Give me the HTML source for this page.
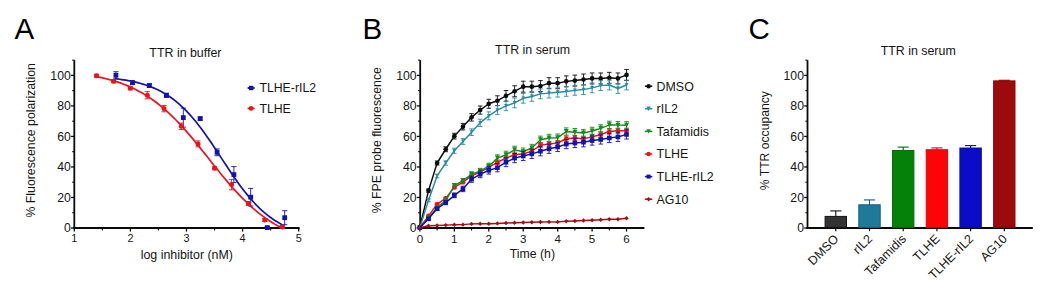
<!DOCTYPE html>
<html lang="en">
<head>
<meta charset="utf-8">
<title>TTR occupancy figure</title>
<style>
html,body{margin:0;padding:0;background:#fff;}
body{width:1050px;height:294px;overflow:hidden;}
svg{display:block;}
</style>
</head>
<body>
<svg width="1050" height="294" viewBox="0 0 1050 294" font-family='"Liberation Sans", Arial, Helvetica, sans-serif'>
<rect x="0" y="0" width="1050" height="294" fill="#ffffff"/>
<g id="panelA">
<text x="14.40" y="38.90" font-size="29.5" text-anchor="start" fill="#000">A</text>
<text x="185.40" y="56.50" font-size="12.4" text-anchor="middle" fill="#151515">TTR in buffer</text>
<line x1="74.30" y1="60.14" x2="74.30" y2="229.00" stroke="#0a0a0a" stroke-width="1.8" stroke-linecap="butt"/>
<line x1="71.00" y1="228.00" x2="74.30" y2="228.00" stroke="#0a0a0a" stroke-width="1.3" stroke-linecap="butt"/>
<text x="70.80" y="232.30" font-size="12.25" text-anchor="end" fill="#151515">0</text>
<line x1="72.10" y1="212.74" x2="74.30" y2="212.74" stroke="#0a0a0a" stroke-width="1.0" stroke-linecap="butt"/>
<line x1="71.00" y1="197.48" x2="74.30" y2="197.48" stroke="#0a0a0a" stroke-width="1.3" stroke-linecap="butt"/>
<text x="70.80" y="201.78" font-size="12.25" text-anchor="end" fill="#151515">20</text>
<line x1="72.10" y1="182.22" x2="74.30" y2="182.22" stroke="#0a0a0a" stroke-width="1.0" stroke-linecap="butt"/>
<line x1="71.00" y1="166.96" x2="74.30" y2="166.96" stroke="#0a0a0a" stroke-width="1.3" stroke-linecap="butt"/>
<text x="70.80" y="171.26" font-size="12.25" text-anchor="end" fill="#151515">40</text>
<line x1="72.10" y1="151.70" x2="74.30" y2="151.70" stroke="#0a0a0a" stroke-width="1.0" stroke-linecap="butt"/>
<line x1="71.00" y1="136.44" x2="74.30" y2="136.44" stroke="#0a0a0a" stroke-width="1.3" stroke-linecap="butt"/>
<text x="70.80" y="140.74" font-size="12.25" text-anchor="end" fill="#151515">60</text>
<line x1="72.10" y1="121.18" x2="74.30" y2="121.18" stroke="#0a0a0a" stroke-width="1.0" stroke-linecap="butt"/>
<line x1="71.00" y1="105.92" x2="74.30" y2="105.92" stroke="#0a0a0a" stroke-width="1.3" stroke-linecap="butt"/>
<text x="70.80" y="110.22" font-size="12.25" text-anchor="end" fill="#151515">80</text>
<line x1="72.10" y1="90.66" x2="74.30" y2="90.66" stroke="#0a0a0a" stroke-width="1.0" stroke-linecap="butt"/>
<line x1="71.00" y1="75.40" x2="74.30" y2="75.40" stroke="#0a0a0a" stroke-width="1.3" stroke-linecap="butt"/>
<text x="70.80" y="79.70" font-size="12.25" text-anchor="end" fill="#151515">100</text>
<line x1="72.10" y1="60.14" x2="74.30" y2="60.14" stroke="#0a0a0a" stroke-width="1.0" stroke-linecap="butt"/>
<line x1="73.35" y1="228.00" x2="299.60" y2="228.00" stroke="#0a0a0a" stroke-width="1.9" stroke-linecap="butt"/>
<line x1="74.30" y1="228.00" x2="74.30" y2="231.60" stroke="#0a0a0a" stroke-width="1.3" stroke-linecap="butt"/>
<text x="74.30" y="242.30" font-size="10.8" text-anchor="middle" fill="#151515">1</text>
<line x1="102.35" y1="228.00" x2="102.35" y2="230.40" stroke="#0a0a0a" stroke-width="1.1" stroke-linecap="butt"/>
<line x1="130.40" y1="228.00" x2="130.40" y2="231.60" stroke="#0a0a0a" stroke-width="1.3" stroke-linecap="butt"/>
<text x="130.40" y="242.30" font-size="10.8" text-anchor="middle" fill="#151515">2</text>
<line x1="158.45" y1="228.00" x2="158.45" y2="230.40" stroke="#0a0a0a" stroke-width="1.1" stroke-linecap="butt"/>
<line x1="186.50" y1="228.00" x2="186.50" y2="231.60" stroke="#0a0a0a" stroke-width="1.3" stroke-linecap="butt"/>
<text x="186.50" y="242.30" font-size="10.8" text-anchor="middle" fill="#151515">3</text>
<line x1="214.55" y1="228.00" x2="214.55" y2="230.40" stroke="#0a0a0a" stroke-width="1.1" stroke-linecap="butt"/>
<line x1="242.60" y1="228.00" x2="242.60" y2="231.60" stroke="#0a0a0a" stroke-width="1.3" stroke-linecap="butt"/>
<text x="242.60" y="242.30" font-size="10.8" text-anchor="middle" fill="#151515">4</text>
<line x1="270.65" y1="228.00" x2="270.65" y2="230.40" stroke="#0a0a0a" stroke-width="1.1" stroke-linecap="butt"/>
<line x1="298.70" y1="228.00" x2="298.70" y2="231.60" stroke="#0a0a0a" stroke-width="1.3" stroke-linecap="butt"/>
<text x="298.70" y="242.30" font-size="10.8" text-anchor="middle" fill="#151515">5</text>
<text x="186.80" y="258.90" font-size="12.4" text-anchor="middle" fill="#151515">log inhibitor (nM)</text>
<text x="34.60" y="140.30" font-size="12.3" text-anchor="middle" fill="#151515" transform="rotate(-90 34.60 140.30)">% Fluorescence polarization</text>
<polyline points="115.25,78.72 117.38,78.97 119.50,79.25 121.62,79.54 123.75,79.86 125.87,80.20 127.99,80.57 130.12,80.97 132.24,81.40 134.36,81.86 136.49,82.35 138.61,82.89 140.73,83.46 142.86,84.07 144.98,84.73 147.10,85.44 149.23,86.19 151.35,87.01 153.47,87.87 155.60,88.80 157.72,89.79 159.84,90.85 161.97,91.98 164.09,93.18 166.21,94.46 168.33,95.82 170.46,97.26 172.58,98.79 174.70,100.40 176.83,102.11 178.95,103.91 181.07,105.81 183.20,107.80 185.32,109.90 187.44,112.08 189.57,114.37 191.69,116.76 193.81,119.24 195.94,121.81 198.06,124.48 200.18,127.23 202.31,130.06 204.43,132.97 206.55,135.95 208.68,138.99 210.80,142.09 212.92,145.24 215.05,148.42 217.17,151.64 219.29,154.87 221.42,158.11 223.54,161.35 225.66,164.59 227.79,167.80 229.91,170.98 232.03,174.12 234.16,177.21 236.28,180.25 238.40,183.22 240.53,186.13 242.65,188.95 244.77,191.69 246.90,194.35 249.02,196.91 251.14,199.39 253.27,201.76 255.39,204.04 257.51,206.22 259.64,208.30 261.76,210.28 263.88,212.17 266.01,213.96 268.13,215.66 270.25,217.27 272.38,218.79 274.50,220.22 276.62,221.57 278.75,222.84 280.87,224.03 282.99,225.16" fill="none" stroke="#1212ac" stroke-width="1.7" stroke-linejoin="round" stroke-linecap="round"/>
<polyline points="96.74,76.64 99.08,77.12 101.43,77.62 103.77,78.15 106.11,78.72 108.46,79.32 110.80,79.96 113.14,80.64 115.49,81.36 117.83,82.12 120.17,82.92 122.52,83.77 124.86,84.67 127.20,85.62 129.55,86.62 131.89,87.68 134.23,88.79 136.58,89.97 138.92,91.20 141.26,92.50 143.61,93.86 145.95,95.29 148.30,96.79 150.64,98.36 152.98,100.01 155.33,101.72 157.67,103.51 160.01,105.37 162.36,107.31 164.70,109.33 167.04,111.42 169.39,113.58 171.73,115.82 174.07,118.13 176.42,120.51 178.76,122.96 181.10,125.47 183.45,128.05 185.79,130.68 188.13,133.38 190.48,136.12 192.82,138.91 195.16,141.74 197.51,144.61 199.85,147.50 202.19,150.42 204.54,153.36 206.88,156.31 209.22,159.27 211.57,162.22 213.91,165.17 216.25,168.11 218.60,171.02 220.94,173.91 223.28,176.76 225.63,179.58 227.97,182.35 230.31,185.08 232.66,187.75 235.00,190.37 237.35,192.92 239.69,195.42 242.03,197.84 244.38,200.20 246.72,202.48 249.06,204.69 251.41,206.83 253.75,208.90 256.09,210.88 258.44,212.80 260.78,214.64 263.12,216.40 265.47,218.09 267.81,219.71 270.15,221.25 272.50,222.73 274.84,224.14 277.18,225.48 279.53,226.75 281.87,227.97" fill="none" stroke="#e8141c" stroke-width="1.7" stroke-linejoin="round" stroke-linecap="round"/>
<line x1="115.90" y1="71.70" x2="115.90" y2="78.90" stroke="#1212ac" stroke-width="0.9" stroke-linecap="butt"/>
<line x1="113.30" y1="71.70" x2="118.50" y2="71.70" stroke="#1212ac" stroke-width="0.9" stroke-linecap="butt"/>
<line x1="113.30" y1="78.90" x2="118.50" y2="78.90" stroke="#1212ac" stroke-width="0.9" stroke-linecap="butt"/>
<line x1="132.50" y1="80.90" x2="132.50" y2="84.50" stroke="#1212ac" stroke-width="0.9" stroke-linecap="butt"/>
<line x1="129.90" y1="80.90" x2="135.10" y2="80.90" stroke="#1212ac" stroke-width="0.9" stroke-linecap="butt"/>
<line x1="129.90" y1="84.50" x2="135.10" y2="84.50" stroke="#1212ac" stroke-width="0.9" stroke-linecap="butt"/>
<line x1="149.40" y1="83.80" x2="149.40" y2="87.40" stroke="#1212ac" stroke-width="0.9" stroke-linecap="butt"/>
<line x1="146.80" y1="83.80" x2="152.00" y2="83.80" stroke="#1212ac" stroke-width="0.9" stroke-linecap="butt"/>
<line x1="146.80" y1="87.40" x2="152.00" y2="87.40" stroke="#1212ac" stroke-width="0.9" stroke-linecap="butt"/>
<line x1="166.40" y1="93.30" x2="166.40" y2="97.30" stroke="#1212ac" stroke-width="0.9" stroke-linecap="butt"/>
<line x1="163.80" y1="93.30" x2="169.00" y2="93.30" stroke="#1212ac" stroke-width="0.9" stroke-linecap="butt"/>
<line x1="163.80" y1="97.30" x2="169.00" y2="97.30" stroke="#1212ac" stroke-width="0.9" stroke-linecap="butt"/>
<line x1="183.30" y1="108.10" x2="183.30" y2="127.10" stroke="#1212ac" stroke-width="0.9" stroke-linecap="butt"/>
<line x1="180.70" y1="108.10" x2="185.90" y2="108.10" stroke="#1212ac" stroke-width="0.9" stroke-linecap="butt"/>
<line x1="180.70" y1="127.10" x2="185.90" y2="127.10" stroke="#1212ac" stroke-width="0.9" stroke-linecap="butt"/>
<line x1="200.20" y1="117.10" x2="200.20" y2="120.10" stroke="#1212ac" stroke-width="0.9" stroke-linecap="butt"/>
<line x1="197.60" y1="117.10" x2="202.80" y2="117.10" stroke="#1212ac" stroke-width="0.9" stroke-linecap="butt"/>
<line x1="197.60" y1="120.10" x2="202.80" y2="120.10" stroke="#1212ac" stroke-width="0.9" stroke-linecap="butt"/>
<line x1="217.10" y1="148.90" x2="217.10" y2="155.70" stroke="#1212ac" stroke-width="0.9" stroke-linecap="butt"/>
<line x1="214.50" y1="148.90" x2="219.70" y2="148.90" stroke="#1212ac" stroke-width="0.9" stroke-linecap="butt"/>
<line x1="214.50" y1="155.70" x2="219.70" y2="155.70" stroke="#1212ac" stroke-width="0.9" stroke-linecap="butt"/>
<line x1="233.90" y1="166.60" x2="233.90" y2="182.60" stroke="#1212ac" stroke-width="0.9" stroke-linecap="butt"/>
<line x1="231.30" y1="166.60" x2="236.50" y2="166.60" stroke="#1212ac" stroke-width="0.9" stroke-linecap="butt"/>
<line x1="231.30" y1="182.60" x2="236.50" y2="182.60" stroke="#1212ac" stroke-width="0.9" stroke-linecap="butt"/>
<line x1="250.70" y1="188.40" x2="250.70" y2="206.00" stroke="#1212ac" stroke-width="0.9" stroke-linecap="butt"/>
<line x1="248.10" y1="188.40" x2="253.30" y2="188.40" stroke="#1212ac" stroke-width="0.9" stroke-linecap="butt"/>
<line x1="248.10" y1="206.00" x2="253.30" y2="206.00" stroke="#1212ac" stroke-width="0.9" stroke-linecap="butt"/>
<line x1="267.30" y1="226.60" x2="267.30" y2="228.60" stroke="#1212ac" stroke-width="0.9" stroke-linecap="butt"/>
<line x1="264.70" y1="226.60" x2="269.90" y2="226.60" stroke="#1212ac" stroke-width="0.9" stroke-linecap="butt"/>
<line x1="264.70" y1="228.60" x2="269.90" y2="228.60" stroke="#1212ac" stroke-width="0.9" stroke-linecap="butt"/>
<line x1="284.70" y1="210.70" x2="284.70" y2="224.70" stroke="#1212ac" stroke-width="0.9" stroke-linecap="butt"/>
<line x1="282.10" y1="210.70" x2="287.30" y2="210.70" stroke="#1212ac" stroke-width="0.9" stroke-linecap="butt"/>
<line x1="282.10" y1="224.70" x2="287.30" y2="224.70" stroke="#1212ac" stroke-width="0.9" stroke-linecap="butt"/>
<rect x="113.50" y="72.90" width="4.80" height="4.80" fill="#1212ac"/>
<rect x="130.10" y="80.30" width="4.80" height="4.80" fill="#1212ac"/>
<rect x="147.00" y="83.20" width="4.80" height="4.80" fill="#1212ac"/>
<rect x="164.00" y="92.90" width="4.80" height="4.80" fill="#1212ac"/>
<rect x="180.90" y="115.20" width="4.80" height="4.80" fill="#1212ac"/>
<rect x="197.80" y="116.20" width="4.80" height="4.80" fill="#1212ac"/>
<rect x="214.70" y="149.90" width="4.80" height="4.80" fill="#1212ac"/>
<rect x="231.50" y="172.20" width="4.80" height="4.80" fill="#1212ac"/>
<rect x="248.30" y="194.80" width="4.80" height="4.80" fill="#1212ac"/>
<rect x="264.90" y="225.20" width="4.80" height="4.80" fill="#1212ac"/>
<rect x="282.30" y="215.30" width="4.80" height="4.80" fill="#1212ac"/>
<line x1="96.50" y1="74.30" x2="96.50" y2="77.30" stroke="#e8141c" stroke-width="0.9" stroke-linecap="butt"/>
<line x1="93.90" y1="74.30" x2="99.10" y2="74.30" stroke="#e8141c" stroke-width="0.9" stroke-linecap="butt"/>
<line x1="93.90" y1="77.30" x2="99.10" y2="77.30" stroke="#e8141c" stroke-width="0.9" stroke-linecap="butt"/>
<line x1="113.60" y1="79.70" x2="113.60" y2="82.70" stroke="#e8141c" stroke-width="0.9" stroke-linecap="butt"/>
<line x1="111.00" y1="79.70" x2="116.20" y2="79.70" stroke="#e8141c" stroke-width="0.9" stroke-linecap="butt"/>
<line x1="111.00" y1="82.70" x2="116.20" y2="82.70" stroke="#e8141c" stroke-width="0.9" stroke-linecap="butt"/>
<line x1="130.30" y1="86.70" x2="130.30" y2="89.70" stroke="#e8141c" stroke-width="0.9" stroke-linecap="butt"/>
<line x1="127.70" y1="86.70" x2="132.90" y2="86.70" stroke="#e8141c" stroke-width="0.9" stroke-linecap="butt"/>
<line x1="127.70" y1="89.70" x2="132.90" y2="89.70" stroke="#e8141c" stroke-width="0.9" stroke-linecap="butt"/>
<line x1="147.30" y1="91.60" x2="147.30" y2="98.80" stroke="#e8141c" stroke-width="0.9" stroke-linecap="butt"/>
<line x1="144.70" y1="91.60" x2="149.90" y2="91.60" stroke="#e8141c" stroke-width="0.9" stroke-linecap="butt"/>
<line x1="144.70" y1="98.80" x2="149.90" y2="98.80" stroke="#e8141c" stroke-width="0.9" stroke-linecap="butt"/>
<line x1="164.00" y1="105.40" x2="164.00" y2="111.80" stroke="#e8141c" stroke-width="0.9" stroke-linecap="butt"/>
<line x1="161.40" y1="105.40" x2="166.60" y2="105.40" stroke="#e8141c" stroke-width="0.9" stroke-linecap="butt"/>
<line x1="161.40" y1="111.80" x2="166.60" y2="111.80" stroke="#e8141c" stroke-width="0.9" stroke-linecap="butt"/>
<line x1="181.30" y1="123.10" x2="181.30" y2="129.50" stroke="#e8141c" stroke-width="0.9" stroke-linecap="butt"/>
<line x1="178.70" y1="123.10" x2="183.90" y2="123.10" stroke="#e8141c" stroke-width="0.9" stroke-linecap="butt"/>
<line x1="178.70" y1="129.50" x2="183.90" y2="129.50" stroke="#e8141c" stroke-width="0.9" stroke-linecap="butt"/>
<line x1="198.00" y1="140.90" x2="198.00" y2="146.90" stroke="#e8141c" stroke-width="0.9" stroke-linecap="butt"/>
<line x1="195.40" y1="140.90" x2="200.60" y2="140.90" stroke="#e8141c" stroke-width="0.9" stroke-linecap="butt"/>
<line x1="195.40" y1="146.90" x2="200.60" y2="146.90" stroke="#e8141c" stroke-width="0.9" stroke-linecap="butt"/>
<line x1="214.60" y1="166.70" x2="214.60" y2="169.70" stroke="#e8141c" stroke-width="0.9" stroke-linecap="butt"/>
<line x1="212.00" y1="166.70" x2="217.20" y2="166.70" stroke="#e8141c" stroke-width="0.9" stroke-linecap="butt"/>
<line x1="212.00" y1="169.70" x2="217.20" y2="169.70" stroke="#e8141c" stroke-width="0.9" stroke-linecap="butt"/>
<line x1="231.60" y1="179.40" x2="231.60" y2="189.80" stroke="#e8141c" stroke-width="0.9" stroke-linecap="butt"/>
<line x1="229.00" y1="179.40" x2="234.20" y2="179.40" stroke="#e8141c" stroke-width="0.9" stroke-linecap="butt"/>
<line x1="229.00" y1="189.80" x2="234.20" y2="189.80" stroke="#e8141c" stroke-width="0.9" stroke-linecap="butt"/>
<line x1="248.40" y1="201.60" x2="248.40" y2="205.60" stroke="#e8141c" stroke-width="0.9" stroke-linecap="butt"/>
<line x1="245.80" y1="201.60" x2="251.00" y2="201.60" stroke="#e8141c" stroke-width="0.9" stroke-linecap="butt"/>
<line x1="245.80" y1="205.60" x2="251.00" y2="205.60" stroke="#e8141c" stroke-width="0.9" stroke-linecap="butt"/>
<line x1="264.80" y1="218.50" x2="264.80" y2="221.50" stroke="#e8141c" stroke-width="0.9" stroke-linecap="butt"/>
<line x1="262.20" y1="218.50" x2="267.40" y2="218.50" stroke="#e8141c" stroke-width="0.9" stroke-linecap="butt"/>
<line x1="262.20" y1="221.50" x2="267.40" y2="221.50" stroke="#e8141c" stroke-width="0.9" stroke-linecap="butt"/>
<line x1="282.40" y1="225.50" x2="282.40" y2="228.50" stroke="#e8141c" stroke-width="0.9" stroke-linecap="butt"/>
<line x1="279.80" y1="225.50" x2="285.00" y2="225.50" stroke="#e8141c" stroke-width="0.9" stroke-linecap="butt"/>
<line x1="279.80" y1="228.50" x2="285.00" y2="228.50" stroke="#e8141c" stroke-width="0.9" stroke-linecap="butt"/>
<circle cx="96.50" cy="75.80" r="2.50" fill="#e8141c"/>
<circle cx="113.60" cy="81.20" r="2.50" fill="#e8141c"/>
<circle cx="130.30" cy="88.20" r="2.50" fill="#e8141c"/>
<circle cx="147.30" cy="95.20" r="2.50" fill="#e8141c"/>
<circle cx="164.00" cy="108.60" r="2.50" fill="#e8141c"/>
<circle cx="181.30" cy="126.30" r="2.50" fill="#e8141c"/>
<circle cx="198.00" cy="143.90" r="2.50" fill="#e8141c"/>
<circle cx="214.60" cy="168.20" r="2.50" fill="#e8141c"/>
<circle cx="231.60" cy="184.60" r="2.50" fill="#e8141c"/>
<circle cx="248.40" cy="203.60" r="2.50" fill="#e8141c"/>
<circle cx="264.80" cy="220.00" r="2.50" fill="#e8141c"/>
<circle cx="282.40" cy="227.00" r="2.50" fill="#e8141c"/>
<line x1="247.60" y1="88.00" x2="254.60" y2="88.00" stroke="#1212ac" stroke-width="1.8" stroke-linecap="butt"/>
<rect x="248.90" y="85.80" width="4.40" height="4.40" fill="#1212ac"/>
<text x="259.40" y="92.20" font-size="12.3" text-anchor="start" fill="#151515">TLHE-rIL2</text>
<line x1="247.60" y1="108.40" x2="254.60" y2="108.40" stroke="#e8141c" stroke-width="1.8" stroke-linecap="butt"/>
<circle cx="251.10" cy="108.40" r="2.30" fill="#e8141c"/>
<text x="259.40" y="112.90" font-size="12.3" text-anchor="start" fill="#151515">TLHE</text>
</g>
<g id="panelB">
<text x="362.40" y="38.60" font-size="29.5" text-anchor="start" fill="#000">B</text>
<text x="532.60" y="53.70" font-size="12.4" text-anchor="middle" fill="#151515">TTR in serum</text>
<line x1="420.20" y1="60.14" x2="420.20" y2="229.00" stroke="#0a0a0a" stroke-width="1.8" stroke-linecap="butt"/>
<line x1="416.90" y1="228.00" x2="420.20" y2="228.00" stroke="#0a0a0a" stroke-width="1.3" stroke-linecap="butt"/>
<text x="416.60" y="232.30" font-size="12.25" text-anchor="end" fill="#151515">0</text>
<line x1="418.00" y1="212.74" x2="420.20" y2="212.74" stroke="#0a0a0a" stroke-width="1.0" stroke-linecap="butt"/>
<line x1="416.90" y1="197.48" x2="420.20" y2="197.48" stroke="#0a0a0a" stroke-width="1.3" stroke-linecap="butt"/>
<text x="416.60" y="201.78" font-size="12.25" text-anchor="end" fill="#151515">20</text>
<line x1="418.00" y1="182.22" x2="420.20" y2="182.22" stroke="#0a0a0a" stroke-width="1.0" stroke-linecap="butt"/>
<line x1="416.90" y1="166.96" x2="420.20" y2="166.96" stroke="#0a0a0a" stroke-width="1.3" stroke-linecap="butt"/>
<text x="416.60" y="171.26" font-size="12.25" text-anchor="end" fill="#151515">40</text>
<line x1="418.00" y1="151.70" x2="420.20" y2="151.70" stroke="#0a0a0a" stroke-width="1.0" stroke-linecap="butt"/>
<line x1="416.90" y1="136.44" x2="420.20" y2="136.44" stroke="#0a0a0a" stroke-width="1.3" stroke-linecap="butt"/>
<text x="416.60" y="140.74" font-size="12.25" text-anchor="end" fill="#151515">60</text>
<line x1="418.00" y1="121.18" x2="420.20" y2="121.18" stroke="#0a0a0a" stroke-width="1.0" stroke-linecap="butt"/>
<line x1="416.90" y1="105.92" x2="420.20" y2="105.92" stroke="#0a0a0a" stroke-width="1.3" stroke-linecap="butt"/>
<text x="416.60" y="110.22" font-size="12.25" text-anchor="end" fill="#151515">80</text>
<line x1="418.00" y1="90.66" x2="420.20" y2="90.66" stroke="#0a0a0a" stroke-width="1.0" stroke-linecap="butt"/>
<line x1="416.90" y1="75.40" x2="420.20" y2="75.40" stroke="#0a0a0a" stroke-width="1.3" stroke-linecap="butt"/>
<text x="416.60" y="79.70" font-size="12.25" text-anchor="end" fill="#151515">100</text>
<line x1="418.00" y1="60.14" x2="420.20" y2="60.14" stroke="#0a0a0a" stroke-width="1.0" stroke-linecap="butt"/>
<line x1="419.25" y1="228.00" x2="644.40" y2="228.00" stroke="#0a0a0a" stroke-width="1.9" stroke-linecap="butt"/>
<line x1="419.90" y1="228.00" x2="419.90" y2="231.60" stroke="#0a0a0a" stroke-width="1.3" stroke-linecap="butt"/>
<text x="419.90" y="242.70" font-size="11.6" text-anchor="middle" fill="#151515">0</text>
<line x1="437.12" y1="228.00" x2="437.12" y2="230.40" stroke="#0a0a0a" stroke-width="1.1" stroke-linecap="butt"/>
<line x1="454.34" y1="228.00" x2="454.34" y2="231.60" stroke="#0a0a0a" stroke-width="1.3" stroke-linecap="butt"/>
<text x="454.34" y="242.70" font-size="11.6" text-anchor="middle" fill="#151515">1</text>
<line x1="471.56" y1="228.00" x2="471.56" y2="230.40" stroke="#0a0a0a" stroke-width="1.1" stroke-linecap="butt"/>
<line x1="488.78" y1="228.00" x2="488.78" y2="231.60" stroke="#0a0a0a" stroke-width="1.3" stroke-linecap="butt"/>
<text x="488.78" y="242.70" font-size="11.6" text-anchor="middle" fill="#151515">2</text>
<line x1="506.00" y1="228.00" x2="506.00" y2="230.40" stroke="#0a0a0a" stroke-width="1.1" stroke-linecap="butt"/>
<line x1="523.22" y1="228.00" x2="523.22" y2="231.60" stroke="#0a0a0a" stroke-width="1.3" stroke-linecap="butt"/>
<text x="523.22" y="242.70" font-size="11.6" text-anchor="middle" fill="#151515">3</text>
<line x1="540.44" y1="228.00" x2="540.44" y2="230.40" stroke="#0a0a0a" stroke-width="1.1" stroke-linecap="butt"/>
<line x1="557.66" y1="228.00" x2="557.66" y2="231.60" stroke="#0a0a0a" stroke-width="1.3" stroke-linecap="butt"/>
<text x="557.66" y="242.70" font-size="11.6" text-anchor="middle" fill="#151515">4</text>
<line x1="574.88" y1="228.00" x2="574.88" y2="230.40" stroke="#0a0a0a" stroke-width="1.1" stroke-linecap="butt"/>
<line x1="592.10" y1="228.00" x2="592.10" y2="231.60" stroke="#0a0a0a" stroke-width="1.3" stroke-linecap="butt"/>
<text x="592.10" y="242.70" font-size="11.6" text-anchor="middle" fill="#151515">5</text>
<line x1="609.32" y1="228.00" x2="609.32" y2="230.40" stroke="#0a0a0a" stroke-width="1.1" stroke-linecap="butt"/>
<line x1="626.54" y1="228.00" x2="626.54" y2="231.60" stroke="#0a0a0a" stroke-width="1.3" stroke-linecap="butt"/>
<text x="626.54" y="242.70" font-size="11.6" text-anchor="middle" fill="#151515">6</text>
<text x="532.40" y="257.90" font-size="12.3" text-anchor="middle" fill="#151515">Time (h)</text>
<text x="381.10" y="140.20" font-size="12.3" text-anchor="middle" fill="#151515" transform="rotate(-90 381.10 140.20)">% FPE probe fluorescence</text>
<line x1="428.51" y1="188.99" x2="428.51" y2="192.23" stroke="#0c0c0c" stroke-width="0.9" stroke-linecap="butt"/>
<line x1="426.21" y1="188.99" x2="430.81" y2="188.99" stroke="#0c0c0c" stroke-width="0.9" stroke-linecap="butt"/>
<line x1="426.21" y1="192.23" x2="430.81" y2="192.23" stroke="#0c0c0c" stroke-width="0.9" stroke-linecap="butt"/>
<line x1="437.12" y1="160.96" x2="437.12" y2="165.03" stroke="#0c0c0c" stroke-width="0.9" stroke-linecap="butt"/>
<line x1="434.82" y1="160.96" x2="439.42" y2="160.96" stroke="#0c0c0c" stroke-width="0.9" stroke-linecap="butt"/>
<line x1="434.82" y1="165.03" x2="439.42" y2="165.03" stroke="#0c0c0c" stroke-width="0.9" stroke-linecap="butt"/>
<line x1="445.73" y1="146.81" x2="445.73" y2="151.70" stroke="#0c0c0c" stroke-width="0.9" stroke-linecap="butt"/>
<line x1="443.43" y1="146.81" x2="448.03" y2="146.81" stroke="#0c0c0c" stroke-width="0.9" stroke-linecap="butt"/>
<line x1="443.43" y1="151.70" x2="448.03" y2="151.70" stroke="#0c0c0c" stroke-width="0.9" stroke-linecap="butt"/>
<line x1="454.34" y1="133.28" x2="454.34" y2="138.99" stroke="#0c0c0c" stroke-width="0.9" stroke-linecap="butt"/>
<line x1="452.04" y1="133.28" x2="456.64" y2="133.28" stroke="#0c0c0c" stroke-width="0.9" stroke-linecap="butt"/>
<line x1="452.04" y1="138.99" x2="456.64" y2="138.99" stroke="#0c0c0c" stroke-width="0.9" stroke-linecap="butt"/>
<line x1="462.95" y1="123.40" x2="462.95" y2="129.94" stroke="#0c0c0c" stroke-width="0.9" stroke-linecap="butt"/>
<line x1="460.65" y1="123.40" x2="465.25" y2="123.40" stroke="#0c0c0c" stroke-width="0.9" stroke-linecap="butt"/>
<line x1="460.65" y1="129.94" x2="465.25" y2="129.94" stroke="#0c0c0c" stroke-width="0.9" stroke-linecap="butt"/>
<line x1="471.56" y1="113.68" x2="471.56" y2="121.05" stroke="#0c0c0c" stroke-width="0.9" stroke-linecap="butt"/>
<line x1="469.26" y1="113.68" x2="473.86" y2="113.68" stroke="#0c0c0c" stroke-width="0.9" stroke-linecap="butt"/>
<line x1="469.26" y1="121.05" x2="473.86" y2="121.05" stroke="#0c0c0c" stroke-width="0.9" stroke-linecap="butt"/>
<line x1="480.17" y1="105.95" x2="480.17" y2="114.13" stroke="#0c0c0c" stroke-width="0.9" stroke-linecap="butt"/>
<line x1="477.87" y1="105.95" x2="482.47" y2="105.95" stroke="#0c0c0c" stroke-width="0.9" stroke-linecap="butt"/>
<line x1="477.87" y1="114.13" x2="482.47" y2="114.13" stroke="#0c0c0c" stroke-width="0.9" stroke-linecap="butt"/>
<line x1="488.78" y1="99.28" x2="488.78" y2="108.29" stroke="#0c0c0c" stroke-width="0.9" stroke-linecap="butt"/>
<line x1="486.48" y1="99.28" x2="491.08" y2="99.28" stroke="#0c0c0c" stroke-width="0.9" stroke-linecap="butt"/>
<line x1="486.48" y1="108.29" x2="491.08" y2="108.29" stroke="#0c0c0c" stroke-width="0.9" stroke-linecap="butt"/>
<line x1="497.39" y1="95.81" x2="497.39" y2="105.65" stroke="#0c0c0c" stroke-width="0.9" stroke-linecap="butt"/>
<line x1="495.09" y1="95.81" x2="499.69" y2="95.81" stroke="#0c0c0c" stroke-width="0.9" stroke-linecap="butt"/>
<line x1="495.09" y1="105.65" x2="499.69" y2="105.65" stroke="#0c0c0c" stroke-width="0.9" stroke-linecap="butt"/>
<line x1="506.00" y1="90.52" x2="506.00" y2="101.18" stroke="#0c0c0c" stroke-width="0.9" stroke-linecap="butt"/>
<line x1="503.70" y1="90.52" x2="508.30" y2="90.52" stroke="#0c0c0c" stroke-width="0.9" stroke-linecap="butt"/>
<line x1="503.70" y1="101.18" x2="508.30" y2="101.18" stroke="#0c0c0c" stroke-width="0.9" stroke-linecap="butt"/>
<line x1="514.61" y1="85.78" x2="514.61" y2="96.76" stroke="#0c0c0c" stroke-width="0.9" stroke-linecap="butt"/>
<line x1="512.31" y1="85.78" x2="516.91" y2="85.78" stroke="#0c0c0c" stroke-width="0.9" stroke-linecap="butt"/>
<line x1="512.31" y1="96.76" x2="516.91" y2="96.76" stroke="#0c0c0c" stroke-width="0.9" stroke-linecap="butt"/>
<line x1="523.22" y1="81.20" x2="523.22" y2="92.19" stroke="#0c0c0c" stroke-width="0.9" stroke-linecap="butt"/>
<line x1="520.92" y1="81.20" x2="525.52" y2="81.20" stroke="#0c0c0c" stroke-width="0.9" stroke-linecap="butt"/>
<line x1="520.92" y1="92.19" x2="525.52" y2="92.19" stroke="#0c0c0c" stroke-width="0.9" stroke-linecap="butt"/>
<line x1="531.83" y1="81.20" x2="531.83" y2="92.19" stroke="#0c0c0c" stroke-width="0.9" stroke-linecap="butt"/>
<line x1="529.53" y1="81.20" x2="534.13" y2="81.20" stroke="#0c0c0c" stroke-width="0.9" stroke-linecap="butt"/>
<line x1="529.53" y1="92.19" x2="534.13" y2="92.19" stroke="#0c0c0c" stroke-width="0.9" stroke-linecap="butt"/>
<line x1="540.44" y1="80.59" x2="540.44" y2="91.58" stroke="#0c0c0c" stroke-width="0.9" stroke-linecap="butt"/>
<line x1="538.14" y1="80.59" x2="542.74" y2="80.59" stroke="#0c0c0c" stroke-width="0.9" stroke-linecap="butt"/>
<line x1="538.14" y1="91.58" x2="542.74" y2="91.58" stroke="#0c0c0c" stroke-width="0.9" stroke-linecap="butt"/>
<line x1="549.05" y1="77.69" x2="549.05" y2="88.68" stroke="#0c0c0c" stroke-width="0.9" stroke-linecap="butt"/>
<line x1="546.75" y1="77.69" x2="551.35" y2="77.69" stroke="#0c0c0c" stroke-width="0.9" stroke-linecap="butt"/>
<line x1="546.75" y1="88.68" x2="551.35" y2="88.68" stroke="#0c0c0c" stroke-width="0.9" stroke-linecap="butt"/>
<line x1="557.66" y1="77.69" x2="557.66" y2="88.68" stroke="#0c0c0c" stroke-width="0.9" stroke-linecap="butt"/>
<line x1="555.36" y1="77.69" x2="559.96" y2="77.69" stroke="#0c0c0c" stroke-width="0.9" stroke-linecap="butt"/>
<line x1="555.36" y1="88.68" x2="559.96" y2="88.68" stroke="#0c0c0c" stroke-width="0.9" stroke-linecap="butt"/>
<line x1="566.27" y1="75.86" x2="566.27" y2="86.85" stroke="#0c0c0c" stroke-width="0.9" stroke-linecap="butt"/>
<line x1="563.97" y1="75.86" x2="568.57" y2="75.86" stroke="#0c0c0c" stroke-width="0.9" stroke-linecap="butt"/>
<line x1="563.97" y1="86.85" x2="568.57" y2="86.85" stroke="#0c0c0c" stroke-width="0.9" stroke-linecap="butt"/>
<line x1="574.88" y1="75.09" x2="574.88" y2="86.08" stroke="#0c0c0c" stroke-width="0.9" stroke-linecap="butt"/>
<line x1="572.58" y1="75.09" x2="577.18" y2="75.09" stroke="#0c0c0c" stroke-width="0.9" stroke-linecap="butt"/>
<line x1="572.58" y1="86.08" x2="577.18" y2="86.08" stroke="#0c0c0c" stroke-width="0.9" stroke-linecap="butt"/>
<line x1="583.49" y1="74.03" x2="583.49" y2="85.01" stroke="#0c0c0c" stroke-width="0.9" stroke-linecap="butt"/>
<line x1="581.19" y1="74.03" x2="585.79" y2="74.03" stroke="#0c0c0c" stroke-width="0.9" stroke-linecap="butt"/>
<line x1="581.19" y1="85.01" x2="585.79" y2="85.01" stroke="#0c0c0c" stroke-width="0.9" stroke-linecap="butt"/>
<line x1="592.10" y1="72.96" x2="592.10" y2="83.95" stroke="#0c0c0c" stroke-width="0.9" stroke-linecap="butt"/>
<line x1="589.80" y1="72.96" x2="594.40" y2="72.96" stroke="#0c0c0c" stroke-width="0.9" stroke-linecap="butt"/>
<line x1="589.80" y1="83.95" x2="594.40" y2="83.95" stroke="#0c0c0c" stroke-width="0.9" stroke-linecap="butt"/>
<line x1="600.71" y1="72.96" x2="600.71" y2="83.95" stroke="#0c0c0c" stroke-width="0.9" stroke-linecap="butt"/>
<line x1="598.41" y1="72.96" x2="603.01" y2="72.96" stroke="#0c0c0c" stroke-width="0.9" stroke-linecap="butt"/>
<line x1="598.41" y1="83.95" x2="603.01" y2="83.95" stroke="#0c0c0c" stroke-width="0.9" stroke-linecap="butt"/>
<line x1="609.32" y1="72.35" x2="609.32" y2="83.34" stroke="#0c0c0c" stroke-width="0.9" stroke-linecap="butt"/>
<line x1="607.02" y1="72.35" x2="611.62" y2="72.35" stroke="#0c0c0c" stroke-width="0.9" stroke-linecap="butt"/>
<line x1="607.02" y1="83.34" x2="611.62" y2="83.34" stroke="#0c0c0c" stroke-width="0.9" stroke-linecap="butt"/>
<line x1="617.93" y1="72.96" x2="617.93" y2="83.95" stroke="#0c0c0c" stroke-width="0.9" stroke-linecap="butt"/>
<line x1="615.63" y1="72.96" x2="620.23" y2="72.96" stroke="#0c0c0c" stroke-width="0.9" stroke-linecap="butt"/>
<line x1="615.63" y1="83.95" x2="620.23" y2="83.95" stroke="#0c0c0c" stroke-width="0.9" stroke-linecap="butt"/>
<line x1="626.54" y1="69.45" x2="626.54" y2="80.44" stroke="#0c0c0c" stroke-width="0.9" stroke-linecap="butt"/>
<line x1="624.24" y1="69.45" x2="628.84" y2="69.45" stroke="#0c0c0c" stroke-width="0.9" stroke-linecap="butt"/>
<line x1="624.24" y1="80.44" x2="628.84" y2="80.44" stroke="#0c0c0c" stroke-width="0.9" stroke-linecap="butt"/>
<polyline points="419.90,227.24 428.51,190.61 437.12,162.99 445.73,149.26 454.34,136.13 462.95,126.67 471.56,117.36 480.17,110.04 488.78,103.78 497.39,100.73 506.00,95.85 514.61,91.27 523.22,86.69 531.83,86.69 540.44,86.08 549.05,83.18 557.66,83.18 566.27,81.35 574.88,80.59 583.49,79.52 592.10,78.45 600.71,78.45 609.32,77.84 617.93,78.45 626.54,74.94" fill="none" stroke="#0c0c0c" stroke-width="1.45" stroke-linejoin="round" stroke-linecap="round"/>
<circle cx="419.90" cy="227.24" r="2.35" fill="#0c0c0c"/>
<circle cx="428.51" cy="190.61" r="2.35" fill="#0c0c0c"/>
<circle cx="437.12" cy="162.99" r="2.35" fill="#0c0c0c"/>
<circle cx="445.73" cy="149.26" r="2.35" fill="#0c0c0c"/>
<circle cx="454.34" cy="136.13" r="2.35" fill="#0c0c0c"/>
<circle cx="462.95" cy="126.67" r="2.35" fill="#0c0c0c"/>
<circle cx="471.56" cy="117.36" r="2.35" fill="#0c0c0c"/>
<circle cx="480.17" cy="110.04" r="2.35" fill="#0c0c0c"/>
<circle cx="488.78" cy="103.78" r="2.35" fill="#0c0c0c"/>
<circle cx="497.39" cy="100.73" r="2.35" fill="#0c0c0c"/>
<circle cx="506.00" cy="95.85" r="2.35" fill="#0c0c0c"/>
<circle cx="514.61" cy="91.27" r="2.35" fill="#0c0c0c"/>
<circle cx="523.22" cy="86.69" r="2.35" fill="#0c0c0c"/>
<circle cx="531.83" cy="86.69" r="2.35" fill="#0c0c0c"/>
<circle cx="540.44" cy="86.08" r="2.35" fill="#0c0c0c"/>
<circle cx="549.05" cy="83.18" r="2.35" fill="#0c0c0c"/>
<circle cx="557.66" cy="83.18" r="2.35" fill="#0c0c0c"/>
<circle cx="566.27" cy="81.35" r="2.35" fill="#0c0c0c"/>
<circle cx="574.88" cy="80.59" r="2.35" fill="#0c0c0c"/>
<circle cx="583.49" cy="79.52" r="2.35" fill="#0c0c0c"/>
<circle cx="592.10" cy="78.45" r="2.35" fill="#0c0c0c"/>
<circle cx="600.71" cy="78.45" r="2.35" fill="#0c0c0c"/>
<circle cx="609.32" cy="77.84" r="2.35" fill="#0c0c0c"/>
<circle cx="617.93" cy="78.45" r="2.35" fill="#0c0c0c"/>
<circle cx="626.54" cy="74.94" r="2.35" fill="#0c0c0c"/>
<line x1="428.51" y1="198.79" x2="428.51" y2="201.67" stroke="#2b8ba6" stroke-width="0.9" stroke-linecap="butt"/>
<line x1="426.21" y1="198.79" x2="430.81" y2="198.79" stroke="#2b8ba6" stroke-width="0.9" stroke-linecap="butt"/>
<line x1="426.21" y1="201.67" x2="430.81" y2="201.67" stroke="#2b8ba6" stroke-width="0.9" stroke-linecap="butt"/>
<line x1="437.12" y1="174.16" x2="437.12" y2="177.77" stroke="#2b8ba6" stroke-width="0.9" stroke-linecap="butt"/>
<line x1="434.82" y1="174.16" x2="439.42" y2="174.16" stroke="#2b8ba6" stroke-width="0.9" stroke-linecap="butt"/>
<line x1="434.82" y1="177.77" x2="439.42" y2="177.77" stroke="#2b8ba6" stroke-width="0.9" stroke-linecap="butt"/>
<line x1="445.73" y1="160.82" x2="445.73" y2="165.17" stroke="#2b8ba6" stroke-width="0.9" stroke-linecap="butt"/>
<line x1="443.43" y1="160.82" x2="448.03" y2="160.82" stroke="#2b8ba6" stroke-width="0.9" stroke-linecap="butt"/>
<line x1="443.43" y1="165.17" x2="448.03" y2="165.17" stroke="#2b8ba6" stroke-width="0.9" stroke-linecap="butt"/>
<line x1="454.34" y1="148.25" x2="454.34" y2="153.32" stroke="#2b8ba6" stroke-width="0.9" stroke-linecap="butt"/>
<line x1="452.04" y1="148.25" x2="456.64" y2="148.25" stroke="#2b8ba6" stroke-width="0.9" stroke-linecap="butt"/>
<line x1="452.04" y1="153.32" x2="456.64" y2="153.32" stroke="#2b8ba6" stroke-width="0.9" stroke-linecap="butt"/>
<line x1="462.95" y1="138.57" x2="462.95" y2="144.38" stroke="#2b8ba6" stroke-width="0.9" stroke-linecap="butt"/>
<line x1="460.65" y1="138.57" x2="465.25" y2="138.57" stroke="#2b8ba6" stroke-width="0.9" stroke-linecap="butt"/>
<line x1="460.65" y1="144.38" x2="465.25" y2="144.38" stroke="#2b8ba6" stroke-width="0.9" stroke-linecap="butt"/>
<line x1="471.56" y1="128.90" x2="471.56" y2="135.44" stroke="#2b8ba6" stroke-width="0.9" stroke-linecap="butt"/>
<line x1="469.26" y1="128.90" x2="473.86" y2="128.90" stroke="#2b8ba6" stroke-width="0.9" stroke-linecap="butt"/>
<line x1="469.26" y1="135.44" x2="473.86" y2="135.44" stroke="#2b8ba6" stroke-width="0.9" stroke-linecap="butt"/>
<line x1="480.17" y1="119.22" x2="480.17" y2="126.50" stroke="#2b8ba6" stroke-width="0.9" stroke-linecap="butt"/>
<line x1="477.87" y1="119.22" x2="482.47" y2="119.22" stroke="#2b8ba6" stroke-width="0.9" stroke-linecap="butt"/>
<line x1="477.87" y1="126.50" x2="482.47" y2="126.50" stroke="#2b8ba6" stroke-width="0.9" stroke-linecap="butt"/>
<line x1="488.78" y1="111.83" x2="488.78" y2="119.84" stroke="#2b8ba6" stroke-width="0.9" stroke-linecap="butt"/>
<line x1="486.48" y1="111.83" x2="491.08" y2="111.83" stroke="#2b8ba6" stroke-width="0.9" stroke-linecap="butt"/>
<line x1="486.48" y1="119.84" x2="491.08" y2="119.84" stroke="#2b8ba6" stroke-width="0.9" stroke-linecap="butt"/>
<line x1="497.39" y1="105.67" x2="497.39" y2="114.41" stroke="#2b8ba6" stroke-width="0.9" stroke-linecap="butt"/>
<line x1="495.09" y1="105.67" x2="499.69" y2="105.67" stroke="#2b8ba6" stroke-width="0.9" stroke-linecap="butt"/>
<line x1="495.09" y1="114.41" x2="499.69" y2="114.41" stroke="#2b8ba6" stroke-width="0.9" stroke-linecap="butt"/>
<line x1="506.00" y1="101.18" x2="506.00" y2="110.66" stroke="#2b8ba6" stroke-width="0.9" stroke-linecap="butt"/>
<line x1="503.70" y1="101.18" x2="508.30" y2="101.18" stroke="#2b8ba6" stroke-width="0.9" stroke-linecap="butt"/>
<line x1="503.70" y1="110.66" x2="508.30" y2="110.66" stroke="#2b8ba6" stroke-width="0.9" stroke-linecap="butt"/>
<line x1="514.61" y1="97.98" x2="514.61" y2="107.75" stroke="#2b8ba6" stroke-width="0.9" stroke-linecap="butt"/>
<line x1="512.31" y1="97.98" x2="516.91" y2="97.98" stroke="#2b8ba6" stroke-width="0.9" stroke-linecap="butt"/>
<line x1="512.31" y1="107.75" x2="516.91" y2="107.75" stroke="#2b8ba6" stroke-width="0.9" stroke-linecap="butt"/>
<line x1="523.22" y1="93.41" x2="523.22" y2="103.17" stroke="#2b8ba6" stroke-width="0.9" stroke-linecap="butt"/>
<line x1="520.92" y1="93.41" x2="525.52" y2="93.41" stroke="#2b8ba6" stroke-width="0.9" stroke-linecap="butt"/>
<line x1="520.92" y1="103.17" x2="525.52" y2="103.17" stroke="#2b8ba6" stroke-width="0.9" stroke-linecap="butt"/>
<line x1="531.83" y1="91.58" x2="531.83" y2="101.34" stroke="#2b8ba6" stroke-width="0.9" stroke-linecap="butt"/>
<line x1="529.53" y1="91.58" x2="534.13" y2="91.58" stroke="#2b8ba6" stroke-width="0.9" stroke-linecap="butt"/>
<line x1="529.53" y1="101.34" x2="534.13" y2="101.34" stroke="#2b8ba6" stroke-width="0.9" stroke-linecap="butt"/>
<line x1="540.44" y1="88.98" x2="540.44" y2="98.75" stroke="#2b8ba6" stroke-width="0.9" stroke-linecap="butt"/>
<line x1="538.14" y1="88.98" x2="542.74" y2="88.98" stroke="#2b8ba6" stroke-width="0.9" stroke-linecap="butt"/>
<line x1="538.14" y1="98.75" x2="542.74" y2="98.75" stroke="#2b8ba6" stroke-width="0.9" stroke-linecap="butt"/>
<line x1="549.05" y1="88.22" x2="549.05" y2="97.98" stroke="#2b8ba6" stroke-width="0.9" stroke-linecap="butt"/>
<line x1="546.75" y1="88.22" x2="551.35" y2="88.22" stroke="#2b8ba6" stroke-width="0.9" stroke-linecap="butt"/>
<line x1="546.75" y1="97.98" x2="551.35" y2="97.98" stroke="#2b8ba6" stroke-width="0.9" stroke-linecap="butt"/>
<line x1="557.66" y1="87.30" x2="557.66" y2="97.07" stroke="#2b8ba6" stroke-width="0.9" stroke-linecap="butt"/>
<line x1="555.36" y1="87.30" x2="559.96" y2="87.30" stroke="#2b8ba6" stroke-width="0.9" stroke-linecap="butt"/>
<line x1="555.36" y1="97.07" x2="559.96" y2="97.07" stroke="#2b8ba6" stroke-width="0.9" stroke-linecap="butt"/>
<line x1="566.27" y1="86.54" x2="566.27" y2="96.31" stroke="#2b8ba6" stroke-width="0.9" stroke-linecap="butt"/>
<line x1="563.97" y1="86.54" x2="568.57" y2="86.54" stroke="#2b8ba6" stroke-width="0.9" stroke-linecap="butt"/>
<line x1="563.97" y1="96.31" x2="568.57" y2="96.31" stroke="#2b8ba6" stroke-width="0.9" stroke-linecap="butt"/>
<line x1="574.88" y1="85.47" x2="574.88" y2="95.24" stroke="#2b8ba6" stroke-width="0.9" stroke-linecap="butt"/>
<line x1="572.58" y1="85.47" x2="577.18" y2="85.47" stroke="#2b8ba6" stroke-width="0.9" stroke-linecap="butt"/>
<line x1="572.58" y1="95.24" x2="577.18" y2="95.24" stroke="#2b8ba6" stroke-width="0.9" stroke-linecap="butt"/>
<line x1="583.49" y1="84.71" x2="583.49" y2="94.48" stroke="#2b8ba6" stroke-width="0.9" stroke-linecap="butt"/>
<line x1="581.19" y1="84.71" x2="585.79" y2="84.71" stroke="#2b8ba6" stroke-width="0.9" stroke-linecap="butt"/>
<line x1="581.19" y1="94.48" x2="585.79" y2="94.48" stroke="#2b8ba6" stroke-width="0.9" stroke-linecap="butt"/>
<line x1="592.10" y1="83.03" x2="592.10" y2="92.80" stroke="#2b8ba6" stroke-width="0.9" stroke-linecap="butt"/>
<line x1="589.80" y1="83.03" x2="594.40" y2="83.03" stroke="#2b8ba6" stroke-width="0.9" stroke-linecap="butt"/>
<line x1="589.80" y1="92.80" x2="594.40" y2="92.80" stroke="#2b8ba6" stroke-width="0.9" stroke-linecap="butt"/>
<line x1="600.71" y1="80.74" x2="600.71" y2="90.51" stroke="#2b8ba6" stroke-width="0.9" stroke-linecap="butt"/>
<line x1="598.41" y1="80.74" x2="603.01" y2="80.74" stroke="#2b8ba6" stroke-width="0.9" stroke-linecap="butt"/>
<line x1="598.41" y1="90.51" x2="603.01" y2="90.51" stroke="#2b8ba6" stroke-width="0.9" stroke-linecap="butt"/>
<line x1="609.32" y1="80.13" x2="609.32" y2="89.90" stroke="#2b8ba6" stroke-width="0.9" stroke-linecap="butt"/>
<line x1="607.02" y1="80.13" x2="611.62" y2="80.13" stroke="#2b8ba6" stroke-width="0.9" stroke-linecap="butt"/>
<line x1="607.02" y1="89.90" x2="611.62" y2="89.90" stroke="#2b8ba6" stroke-width="0.9" stroke-linecap="butt"/>
<line x1="617.93" y1="83.64" x2="617.93" y2="93.41" stroke="#2b8ba6" stroke-width="0.9" stroke-linecap="butt"/>
<line x1="615.63" y1="83.64" x2="620.23" y2="83.64" stroke="#2b8ba6" stroke-width="0.9" stroke-linecap="butt"/>
<line x1="615.63" y1="93.41" x2="620.23" y2="93.41" stroke="#2b8ba6" stroke-width="0.9" stroke-linecap="butt"/>
<line x1="626.54" y1="80.13" x2="626.54" y2="89.90" stroke="#2b8ba6" stroke-width="0.9" stroke-linecap="butt"/>
<line x1="624.24" y1="80.13" x2="628.84" y2="80.13" stroke="#2b8ba6" stroke-width="0.9" stroke-linecap="butt"/>
<line x1="624.24" y1="89.90" x2="628.84" y2="89.90" stroke="#2b8ba6" stroke-width="0.9" stroke-linecap="butt"/>
<polyline points="419.90,227.39 428.51,200.23 437.12,175.96 445.73,162.99 454.34,150.78 462.95,141.48 471.56,132.17 480.17,122.86 488.78,115.84 497.39,110.04 506.00,105.92 514.61,102.87 523.22,98.29 531.83,96.46 540.44,93.86 549.05,93.10 557.66,92.19 566.27,91.42 574.88,90.35 583.49,89.59 592.10,87.91 600.71,85.62 609.32,85.01 617.93,88.52 626.54,85.01" fill="none" stroke="#2b8ba6" stroke-width="1.45" stroke-linejoin="round" stroke-linecap="round"/>
<polygon points="419.90,229.29 421.80,225.49 418.00,225.49" fill="#2b8ba6"/>
<polygon points="428.51,202.13 430.41,198.33 426.61,198.33" fill="#2b8ba6"/>
<polygon points="437.12,177.86 439.02,174.06 435.22,174.06" fill="#2b8ba6"/>
<polygon points="445.73,164.89 447.63,161.09 443.83,161.09" fill="#2b8ba6"/>
<polygon points="454.34,152.68 456.24,148.88 452.44,148.88" fill="#2b8ba6"/>
<polygon points="462.95,143.38 464.85,139.58 461.05,139.58" fill="#2b8ba6"/>
<polygon points="471.56,134.07 473.46,130.27 469.66,130.27" fill="#2b8ba6"/>
<polygon points="480.17,124.76 482.07,120.96 478.27,120.96" fill="#2b8ba6"/>
<polygon points="488.78,117.74 490.68,113.94 486.88,113.94" fill="#2b8ba6"/>
<polygon points="497.39,111.94 499.29,108.14 495.49,108.14" fill="#2b8ba6"/>
<polygon points="506.00,107.82 507.90,104.02 504.10,104.02" fill="#2b8ba6"/>
<polygon points="514.61,104.77 516.51,100.97 512.71,100.97" fill="#2b8ba6"/>
<polygon points="523.22,100.19 525.12,96.39 521.32,96.39" fill="#2b8ba6"/>
<polygon points="531.83,98.36 533.73,94.56 529.93,94.56" fill="#2b8ba6"/>
<polygon points="540.44,95.76 542.34,91.96 538.54,91.96" fill="#2b8ba6"/>
<polygon points="549.05,95.00 550.95,91.20 547.15,91.20" fill="#2b8ba6"/>
<polygon points="557.66,94.09 559.56,90.29 555.76,90.29" fill="#2b8ba6"/>
<polygon points="566.27,93.32 568.17,89.52 564.37,89.52" fill="#2b8ba6"/>
<polygon points="574.88,92.25 576.78,88.45 572.98,88.45" fill="#2b8ba6"/>
<polygon points="583.49,91.49 585.39,87.69 581.59,87.69" fill="#2b8ba6"/>
<polygon points="592.10,89.81 594.00,86.01 590.20,86.01" fill="#2b8ba6"/>
<polygon points="600.71,87.52 602.61,83.72 598.81,83.72" fill="#2b8ba6"/>
<polygon points="609.32,86.91 611.22,83.11 607.42,83.11" fill="#2b8ba6"/>
<polygon points="617.93,90.42 619.83,86.62 616.03,86.62" fill="#2b8ba6"/>
<polygon points="626.54,86.91 628.44,83.11 624.64,83.11" fill="#2b8ba6"/>
<line x1="428.51" y1="215.18" x2="428.51" y2="216.71" stroke="#e8141c" stroke-width="0.9" stroke-linecap="butt"/>
<line x1="426.21" y1="215.18" x2="430.81" y2="215.18" stroke="#e8141c" stroke-width="0.9" stroke-linecap="butt"/>
<line x1="426.21" y1="216.71" x2="430.81" y2="216.71" stroke="#e8141c" stroke-width="0.9" stroke-linecap="butt"/>
<line x1="437.12" y1="203.23" x2="437.12" y2="205.15" stroke="#e8141c" stroke-width="0.9" stroke-linecap="butt"/>
<line x1="434.82" y1="203.23" x2="439.42" y2="203.23" stroke="#e8141c" stroke-width="0.9" stroke-linecap="butt"/>
<line x1="434.82" y1="205.15" x2="439.42" y2="205.15" stroke="#e8141c" stroke-width="0.9" stroke-linecap="butt"/>
<line x1="445.73" y1="197.24" x2="445.73" y2="199.55" stroke="#e8141c" stroke-width="0.9" stroke-linecap="butt"/>
<line x1="443.43" y1="197.24" x2="448.03" y2="197.24" stroke="#e8141c" stroke-width="0.9" stroke-linecap="butt"/>
<line x1="443.43" y1="199.55" x2="448.03" y2="199.55" stroke="#e8141c" stroke-width="0.9" stroke-linecap="butt"/>
<line x1="454.34" y1="186.06" x2="454.34" y2="188.76" stroke="#e8141c" stroke-width="0.9" stroke-linecap="butt"/>
<line x1="452.04" y1="186.06" x2="456.64" y2="186.06" stroke="#e8141c" stroke-width="0.9" stroke-linecap="butt"/>
<line x1="452.04" y1="188.76" x2="456.64" y2="188.76" stroke="#e8141c" stroke-width="0.9" stroke-linecap="butt"/>
<line x1="462.95" y1="180.68" x2="462.95" y2="183.76" stroke="#e8141c" stroke-width="0.9" stroke-linecap="butt"/>
<line x1="460.65" y1="180.68" x2="465.25" y2="180.68" stroke="#e8141c" stroke-width="0.9" stroke-linecap="butt"/>
<line x1="460.65" y1="183.76" x2="465.25" y2="183.76" stroke="#e8141c" stroke-width="0.9" stroke-linecap="butt"/>
<line x1="471.56" y1="174.07" x2="471.56" y2="177.55" stroke="#e8141c" stroke-width="0.9" stroke-linecap="butt"/>
<line x1="469.26" y1="174.07" x2="473.86" y2="174.07" stroke="#e8141c" stroke-width="0.9" stroke-linecap="butt"/>
<line x1="469.26" y1="177.55" x2="473.86" y2="177.55" stroke="#e8141c" stroke-width="0.9" stroke-linecap="butt"/>
<line x1="480.17" y1="170.22" x2="480.17" y2="174.08" stroke="#e8141c" stroke-width="0.9" stroke-linecap="butt"/>
<line x1="477.87" y1="170.22" x2="482.47" y2="170.22" stroke="#e8141c" stroke-width="0.9" stroke-linecap="butt"/>
<line x1="477.87" y1="174.08" x2="482.47" y2="174.08" stroke="#e8141c" stroke-width="0.9" stroke-linecap="butt"/>
<line x1="488.78" y1="165.14" x2="488.78" y2="169.39" stroke="#e8141c" stroke-width="0.9" stroke-linecap="butt"/>
<line x1="486.48" y1="165.14" x2="491.08" y2="165.14" stroke="#e8141c" stroke-width="0.9" stroke-linecap="butt"/>
<line x1="486.48" y1="169.39" x2="491.08" y2="169.39" stroke="#e8141c" stroke-width="0.9" stroke-linecap="butt"/>
<line x1="497.39" y1="159.91" x2="497.39" y2="164.55" stroke="#e8141c" stroke-width="0.9" stroke-linecap="butt"/>
<line x1="495.09" y1="159.91" x2="499.69" y2="159.91" stroke="#e8141c" stroke-width="0.9" stroke-linecap="butt"/>
<line x1="495.09" y1="164.55" x2="499.69" y2="164.55" stroke="#e8141c" stroke-width="0.9" stroke-linecap="butt"/>
<line x1="506.00" y1="155.59" x2="506.00" y2="160.63" stroke="#e8141c" stroke-width="0.9" stroke-linecap="butt"/>
<line x1="503.70" y1="155.59" x2="508.30" y2="155.59" stroke="#e8141c" stroke-width="0.9" stroke-linecap="butt"/>
<line x1="503.70" y1="160.63" x2="508.30" y2="160.63" stroke="#e8141c" stroke-width="0.9" stroke-linecap="butt"/>
<line x1="514.61" y1="152.16" x2="514.61" y2="157.35" stroke="#e8141c" stroke-width="0.9" stroke-linecap="butt"/>
<line x1="512.31" y1="152.16" x2="516.91" y2="152.16" stroke="#e8141c" stroke-width="0.9" stroke-linecap="butt"/>
<line x1="512.31" y1="157.35" x2="516.91" y2="157.35" stroke="#e8141c" stroke-width="0.9" stroke-linecap="butt"/>
<line x1="523.22" y1="151.24" x2="523.22" y2="156.43" stroke="#e8141c" stroke-width="0.9" stroke-linecap="butt"/>
<line x1="520.92" y1="151.24" x2="525.52" y2="151.24" stroke="#e8141c" stroke-width="0.9" stroke-linecap="butt"/>
<line x1="520.92" y1="156.43" x2="525.52" y2="156.43" stroke="#e8141c" stroke-width="0.9" stroke-linecap="butt"/>
<line x1="531.83" y1="148.65" x2="531.83" y2="153.84" stroke="#e8141c" stroke-width="0.9" stroke-linecap="butt"/>
<line x1="529.53" y1="148.65" x2="534.13" y2="148.65" stroke="#e8141c" stroke-width="0.9" stroke-linecap="butt"/>
<line x1="529.53" y1="153.84" x2="534.13" y2="153.84" stroke="#e8141c" stroke-width="0.9" stroke-linecap="butt"/>
<line x1="540.44" y1="142.54" x2="540.44" y2="147.73" stroke="#e8141c" stroke-width="0.9" stroke-linecap="butt"/>
<line x1="538.14" y1="142.54" x2="542.74" y2="142.54" stroke="#e8141c" stroke-width="0.9" stroke-linecap="butt"/>
<line x1="538.14" y1="147.73" x2="542.74" y2="147.73" stroke="#e8141c" stroke-width="0.9" stroke-linecap="butt"/>
<line x1="549.05" y1="141.48" x2="549.05" y2="146.66" stroke="#e8141c" stroke-width="0.9" stroke-linecap="butt"/>
<line x1="546.75" y1="141.48" x2="551.35" y2="141.48" stroke="#e8141c" stroke-width="0.9" stroke-linecap="butt"/>
<line x1="546.75" y1="146.66" x2="551.35" y2="146.66" stroke="#e8141c" stroke-width="0.9" stroke-linecap="butt"/>
<line x1="557.66" y1="140.41" x2="557.66" y2="145.60" stroke="#e8141c" stroke-width="0.9" stroke-linecap="butt"/>
<line x1="555.36" y1="140.41" x2="559.96" y2="140.41" stroke="#e8141c" stroke-width="0.9" stroke-linecap="butt"/>
<line x1="555.36" y1="145.60" x2="559.96" y2="145.60" stroke="#e8141c" stroke-width="0.9" stroke-linecap="butt"/>
<line x1="566.27" y1="136.13" x2="566.27" y2="141.32" stroke="#e8141c" stroke-width="0.9" stroke-linecap="butt"/>
<line x1="563.97" y1="136.13" x2="568.57" y2="136.13" stroke="#e8141c" stroke-width="0.9" stroke-linecap="butt"/>
<line x1="563.97" y1="141.32" x2="568.57" y2="141.32" stroke="#e8141c" stroke-width="0.9" stroke-linecap="butt"/>
<line x1="574.88" y1="135.37" x2="574.88" y2="140.56" stroke="#e8141c" stroke-width="0.9" stroke-linecap="butt"/>
<line x1="572.58" y1="135.37" x2="577.18" y2="135.37" stroke="#e8141c" stroke-width="0.9" stroke-linecap="butt"/>
<line x1="572.58" y1="140.56" x2="577.18" y2="140.56" stroke="#e8141c" stroke-width="0.9" stroke-linecap="butt"/>
<line x1="583.49" y1="136.13" x2="583.49" y2="141.32" stroke="#e8141c" stroke-width="0.9" stroke-linecap="butt"/>
<line x1="581.19" y1="136.13" x2="585.79" y2="136.13" stroke="#e8141c" stroke-width="0.9" stroke-linecap="butt"/>
<line x1="581.19" y1="141.32" x2="585.79" y2="141.32" stroke="#e8141c" stroke-width="0.9" stroke-linecap="butt"/>
<line x1="592.10" y1="134.30" x2="592.10" y2="139.49" stroke="#e8141c" stroke-width="0.9" stroke-linecap="butt"/>
<line x1="589.80" y1="134.30" x2="594.40" y2="134.30" stroke="#e8141c" stroke-width="0.9" stroke-linecap="butt"/>
<line x1="589.80" y1="139.49" x2="594.40" y2="139.49" stroke="#e8141c" stroke-width="0.9" stroke-linecap="butt"/>
<line x1="600.71" y1="131.86" x2="600.71" y2="137.05" stroke="#e8141c" stroke-width="0.9" stroke-linecap="butt"/>
<line x1="598.41" y1="131.86" x2="603.01" y2="131.86" stroke="#e8141c" stroke-width="0.9" stroke-linecap="butt"/>
<line x1="598.41" y1="137.05" x2="603.01" y2="137.05" stroke="#e8141c" stroke-width="0.9" stroke-linecap="butt"/>
<line x1="609.32" y1="128.96" x2="609.32" y2="134.15" stroke="#e8141c" stroke-width="0.9" stroke-linecap="butt"/>
<line x1="607.02" y1="128.96" x2="611.62" y2="128.96" stroke="#e8141c" stroke-width="0.9" stroke-linecap="butt"/>
<line x1="607.02" y1="134.15" x2="611.62" y2="134.15" stroke="#e8141c" stroke-width="0.9" stroke-linecap="butt"/>
<line x1="617.93" y1="128.20" x2="617.93" y2="133.39" stroke="#e8141c" stroke-width="0.9" stroke-linecap="butt"/>
<line x1="615.63" y1="128.20" x2="620.23" y2="128.20" stroke="#e8141c" stroke-width="0.9" stroke-linecap="butt"/>
<line x1="615.63" y1="133.39" x2="620.23" y2="133.39" stroke="#e8141c" stroke-width="0.9" stroke-linecap="butt"/>
<line x1="626.54" y1="128.20" x2="626.54" y2="133.39" stroke="#e8141c" stroke-width="0.9" stroke-linecap="butt"/>
<line x1="624.24" y1="128.20" x2="628.84" y2="128.20" stroke="#e8141c" stroke-width="0.9" stroke-linecap="butt"/>
<line x1="624.24" y1="133.39" x2="628.84" y2="133.39" stroke="#e8141c" stroke-width="0.9" stroke-linecap="butt"/>
<polyline points="419.90,227.54 428.51,215.94 437.12,204.19 445.73,198.40 454.34,187.41 462.95,182.22 471.56,175.81 480.17,172.15 488.78,167.27 497.39,162.23 506.00,158.11 514.61,154.75 523.22,153.84 531.83,151.24 540.44,145.14 549.05,144.07 557.66,143.00 566.27,138.73 574.88,137.97 583.49,138.73 592.10,136.90 600.71,134.46 609.32,131.56 617.93,130.79 626.54,130.79" fill="none" stroke="#e8141c" stroke-width="1.45" stroke-linejoin="round" stroke-linecap="round"/>
<circle cx="419.90" cy="227.54" r="2.35" fill="#e8141c"/>
<circle cx="428.51" cy="215.94" r="2.35" fill="#e8141c"/>
<circle cx="437.12" cy="204.19" r="2.35" fill="#e8141c"/>
<circle cx="445.73" cy="198.40" r="2.35" fill="#e8141c"/>
<circle cx="454.34" cy="187.41" r="2.35" fill="#e8141c"/>
<circle cx="462.95" cy="182.22" r="2.35" fill="#e8141c"/>
<circle cx="471.56" cy="175.81" r="2.35" fill="#e8141c"/>
<circle cx="480.17" cy="172.15" r="2.35" fill="#e8141c"/>
<circle cx="488.78" cy="167.27" r="2.35" fill="#e8141c"/>
<circle cx="497.39" cy="162.23" r="2.35" fill="#e8141c"/>
<circle cx="506.00" cy="158.11" r="2.35" fill="#e8141c"/>
<circle cx="514.61" cy="154.75" r="2.35" fill="#e8141c"/>
<circle cx="523.22" cy="153.84" r="2.35" fill="#e8141c"/>
<circle cx="531.83" cy="151.24" r="2.35" fill="#e8141c"/>
<circle cx="540.44" cy="145.14" r="2.35" fill="#e8141c"/>
<circle cx="549.05" cy="144.07" r="2.35" fill="#e8141c"/>
<circle cx="557.66" cy="143.00" r="2.35" fill="#e8141c"/>
<circle cx="566.27" cy="138.73" r="2.35" fill="#e8141c"/>
<circle cx="574.88" cy="137.97" r="2.35" fill="#e8141c"/>
<circle cx="583.49" cy="138.73" r="2.35" fill="#e8141c"/>
<circle cx="592.10" cy="136.90" r="2.35" fill="#e8141c"/>
<circle cx="600.71" cy="134.46" r="2.35" fill="#e8141c"/>
<circle cx="609.32" cy="131.56" r="2.35" fill="#e8141c"/>
<circle cx="617.93" cy="130.79" r="2.35" fill="#e8141c"/>
<circle cx="626.54" cy="130.79" r="2.35" fill="#e8141c"/>
<line x1="428.51" y1="216.85" x2="428.51" y2="219.01" stroke="#168a1c" stroke-width="0.9" stroke-linecap="butt"/>
<line x1="426.21" y1="216.85" x2="430.81" y2="216.85" stroke="#168a1c" stroke-width="0.9" stroke-linecap="butt"/>
<line x1="426.21" y1="219.01" x2="430.81" y2="219.01" stroke="#168a1c" stroke-width="0.9" stroke-linecap="butt"/>
<line x1="437.12" y1="206.04" x2="437.12" y2="208.75" stroke="#168a1c" stroke-width="0.9" stroke-linecap="butt"/>
<line x1="434.82" y1="206.04" x2="439.42" y2="206.04" stroke="#168a1c" stroke-width="0.9" stroke-linecap="butt"/>
<line x1="434.82" y1="208.75" x2="439.42" y2="208.75" stroke="#168a1c" stroke-width="0.9" stroke-linecap="butt"/>
<line x1="445.73" y1="199.05" x2="445.73" y2="202.31" stroke="#168a1c" stroke-width="0.9" stroke-linecap="butt"/>
<line x1="443.43" y1="199.05" x2="448.03" y2="199.05" stroke="#168a1c" stroke-width="0.9" stroke-linecap="butt"/>
<line x1="443.43" y1="202.31" x2="448.03" y2="202.31" stroke="#168a1c" stroke-width="0.9" stroke-linecap="butt"/>
<line x1="454.34" y1="183.67" x2="454.34" y2="187.48" stroke="#168a1c" stroke-width="0.9" stroke-linecap="butt"/>
<line x1="452.04" y1="183.67" x2="456.64" y2="183.67" stroke="#168a1c" stroke-width="0.9" stroke-linecap="butt"/>
<line x1="452.04" y1="187.48" x2="456.64" y2="187.48" stroke="#168a1c" stroke-width="0.9" stroke-linecap="butt"/>
<line x1="462.95" y1="178.51" x2="462.95" y2="182.87" stroke="#168a1c" stroke-width="0.9" stroke-linecap="butt"/>
<line x1="460.65" y1="178.51" x2="465.25" y2="178.51" stroke="#168a1c" stroke-width="0.9" stroke-linecap="butt"/>
<line x1="460.65" y1="182.87" x2="465.25" y2="182.87" stroke="#168a1c" stroke-width="0.9" stroke-linecap="butt"/>
<line x1="471.56" y1="171.83" x2="471.56" y2="176.74" stroke="#168a1c" stroke-width="0.9" stroke-linecap="butt"/>
<line x1="469.26" y1="171.83" x2="473.86" y2="171.83" stroke="#168a1c" stroke-width="0.9" stroke-linecap="butt"/>
<line x1="469.26" y1="176.74" x2="473.86" y2="176.74" stroke="#168a1c" stroke-width="0.9" stroke-linecap="butt"/>
<line x1="480.17" y1="168.35" x2="480.17" y2="173.81" stroke="#168a1c" stroke-width="0.9" stroke-linecap="butt"/>
<line x1="477.87" y1="168.35" x2="482.47" y2="168.35" stroke="#168a1c" stroke-width="0.9" stroke-linecap="butt"/>
<line x1="477.87" y1="173.81" x2="482.47" y2="173.81" stroke="#168a1c" stroke-width="0.9" stroke-linecap="butt"/>
<line x1="488.78" y1="163.19" x2="488.78" y2="169.20" stroke="#168a1c" stroke-width="0.9" stroke-linecap="butt"/>
<line x1="486.48" y1="163.19" x2="491.08" y2="163.19" stroke="#168a1c" stroke-width="0.9" stroke-linecap="butt"/>
<line x1="486.48" y1="169.20" x2="491.08" y2="169.20" stroke="#168a1c" stroke-width="0.9" stroke-linecap="butt"/>
<line x1="497.39" y1="154.83" x2="497.39" y2="161.39" stroke="#168a1c" stroke-width="0.9" stroke-linecap="butt"/>
<line x1="495.09" y1="154.83" x2="499.69" y2="154.83" stroke="#168a1c" stroke-width="0.9" stroke-linecap="butt"/>
<line x1="495.09" y1="161.39" x2="499.69" y2="161.39" stroke="#168a1c" stroke-width="0.9" stroke-linecap="butt"/>
<line x1="506.00" y1="151.20" x2="506.00" y2="158.30" stroke="#168a1c" stroke-width="0.9" stroke-linecap="butt"/>
<line x1="503.70" y1="151.20" x2="508.30" y2="151.20" stroke="#168a1c" stroke-width="0.9" stroke-linecap="butt"/>
<line x1="503.70" y1="158.30" x2="508.30" y2="158.30" stroke="#168a1c" stroke-width="0.9" stroke-linecap="butt"/>
<line x1="514.61" y1="146.21" x2="514.61" y2="153.53" stroke="#168a1c" stroke-width="0.9" stroke-linecap="butt"/>
<line x1="512.31" y1="146.21" x2="516.91" y2="146.21" stroke="#168a1c" stroke-width="0.9" stroke-linecap="butt"/>
<line x1="512.31" y1="153.53" x2="516.91" y2="153.53" stroke="#168a1c" stroke-width="0.9" stroke-linecap="butt"/>
<line x1="523.22" y1="148.04" x2="523.22" y2="155.36" stroke="#168a1c" stroke-width="0.9" stroke-linecap="butt"/>
<line x1="520.92" y1="148.04" x2="525.52" y2="148.04" stroke="#168a1c" stroke-width="0.9" stroke-linecap="butt"/>
<line x1="520.92" y1="155.36" x2="525.52" y2="155.36" stroke="#168a1c" stroke-width="0.9" stroke-linecap="butt"/>
<line x1="531.83" y1="144.38" x2="531.83" y2="151.70" stroke="#168a1c" stroke-width="0.9" stroke-linecap="butt"/>
<line x1="529.53" y1="144.38" x2="534.13" y2="144.38" stroke="#168a1c" stroke-width="0.9" stroke-linecap="butt"/>
<line x1="529.53" y1="151.70" x2="534.13" y2="151.70" stroke="#168a1c" stroke-width="0.9" stroke-linecap="butt"/>
<line x1="540.44" y1="136.13" x2="540.44" y2="143.46" stroke="#168a1c" stroke-width="0.9" stroke-linecap="butt"/>
<line x1="538.14" y1="136.13" x2="542.74" y2="136.13" stroke="#168a1c" stroke-width="0.9" stroke-linecap="butt"/>
<line x1="538.14" y1="143.46" x2="542.74" y2="143.46" stroke="#168a1c" stroke-width="0.9" stroke-linecap="butt"/>
<line x1="549.05" y1="134.30" x2="549.05" y2="141.63" stroke="#168a1c" stroke-width="0.9" stroke-linecap="butt"/>
<line x1="546.75" y1="134.30" x2="551.35" y2="134.30" stroke="#168a1c" stroke-width="0.9" stroke-linecap="butt"/>
<line x1="546.75" y1="141.63" x2="551.35" y2="141.63" stroke="#168a1c" stroke-width="0.9" stroke-linecap="butt"/>
<line x1="557.66" y1="134.00" x2="557.66" y2="141.32" stroke="#168a1c" stroke-width="0.9" stroke-linecap="butt"/>
<line x1="555.36" y1="134.00" x2="559.96" y2="134.00" stroke="#168a1c" stroke-width="0.9" stroke-linecap="butt"/>
<line x1="555.36" y1="141.32" x2="559.96" y2="141.32" stroke="#168a1c" stroke-width="0.9" stroke-linecap="butt"/>
<line x1="566.27" y1="127.89" x2="566.27" y2="135.22" stroke="#168a1c" stroke-width="0.9" stroke-linecap="butt"/>
<line x1="563.97" y1="127.89" x2="568.57" y2="127.89" stroke="#168a1c" stroke-width="0.9" stroke-linecap="butt"/>
<line x1="563.97" y1="135.22" x2="568.57" y2="135.22" stroke="#168a1c" stroke-width="0.9" stroke-linecap="butt"/>
<line x1="574.88" y1="128.50" x2="574.88" y2="135.83" stroke="#168a1c" stroke-width="0.9" stroke-linecap="butt"/>
<line x1="572.58" y1="128.50" x2="577.18" y2="128.50" stroke="#168a1c" stroke-width="0.9" stroke-linecap="butt"/>
<line x1="572.58" y1="135.83" x2="577.18" y2="135.83" stroke="#168a1c" stroke-width="0.9" stroke-linecap="butt"/>
<line x1="583.49" y1="129.42" x2="583.49" y2="136.75" stroke="#168a1c" stroke-width="0.9" stroke-linecap="butt"/>
<line x1="581.19" y1="129.42" x2="585.79" y2="129.42" stroke="#168a1c" stroke-width="0.9" stroke-linecap="butt"/>
<line x1="581.19" y1="136.75" x2="585.79" y2="136.75" stroke="#168a1c" stroke-width="0.9" stroke-linecap="butt"/>
<line x1="592.10" y1="127.28" x2="592.10" y2="134.61" stroke="#168a1c" stroke-width="0.9" stroke-linecap="butt"/>
<line x1="589.80" y1="127.28" x2="594.40" y2="127.28" stroke="#168a1c" stroke-width="0.9" stroke-linecap="butt"/>
<line x1="589.80" y1="134.61" x2="594.40" y2="134.61" stroke="#168a1c" stroke-width="0.9" stroke-linecap="butt"/>
<line x1="600.71" y1="124.69" x2="600.71" y2="132.01" stroke="#168a1c" stroke-width="0.9" stroke-linecap="butt"/>
<line x1="598.41" y1="124.69" x2="603.01" y2="124.69" stroke="#168a1c" stroke-width="0.9" stroke-linecap="butt"/>
<line x1="598.41" y1="132.01" x2="603.01" y2="132.01" stroke="#168a1c" stroke-width="0.9" stroke-linecap="butt"/>
<line x1="609.32" y1="121.18" x2="609.32" y2="128.50" stroke="#168a1c" stroke-width="0.9" stroke-linecap="butt"/>
<line x1="607.02" y1="121.18" x2="611.62" y2="121.18" stroke="#168a1c" stroke-width="0.9" stroke-linecap="butt"/>
<line x1="607.02" y1="128.50" x2="611.62" y2="128.50" stroke="#168a1c" stroke-width="0.9" stroke-linecap="butt"/>
<line x1="617.93" y1="121.49" x2="617.93" y2="128.81" stroke="#168a1c" stroke-width="0.9" stroke-linecap="butt"/>
<line x1="615.63" y1="121.49" x2="620.23" y2="121.49" stroke="#168a1c" stroke-width="0.9" stroke-linecap="butt"/>
<line x1="615.63" y1="128.81" x2="620.23" y2="128.81" stroke="#168a1c" stroke-width="0.9" stroke-linecap="butt"/>
<line x1="626.54" y1="121.64" x2="626.54" y2="128.96" stroke="#168a1c" stroke-width="0.9" stroke-linecap="butt"/>
<line x1="624.24" y1="121.64" x2="628.84" y2="121.64" stroke="#168a1c" stroke-width="0.9" stroke-linecap="butt"/>
<line x1="624.24" y1="128.96" x2="628.84" y2="128.96" stroke="#168a1c" stroke-width="0.9" stroke-linecap="butt"/>
<polyline points="419.90,227.54 428.51,217.93 437.12,207.40 445.73,200.68 454.34,185.58 462.95,180.69 471.56,174.28 480.17,171.08 488.78,166.20 497.39,158.11 506.00,154.75 514.61,149.87 523.22,151.70 531.83,148.04 540.44,139.80 549.05,137.97 557.66,137.66 566.27,131.56 574.88,132.17 583.49,133.08 592.10,130.95 600.71,128.35 609.32,124.84 617.93,125.15 626.54,125.30" fill="none" stroke="#168a1c" stroke-width="1.45" stroke-linejoin="round" stroke-linecap="round"/>
<polygon points="419.90,230.04 422.40,225.04 417.40,225.04" fill="#168a1c"/>
<polygon points="428.51,220.43 431.01,215.43 426.01,215.43" fill="#168a1c"/>
<polygon points="437.12,209.90 439.62,204.90 434.62,204.90" fill="#168a1c"/>
<polygon points="445.73,203.18 448.23,198.18 443.23,198.18" fill="#168a1c"/>
<polygon points="454.34,188.08 456.84,183.08 451.84,183.08" fill="#168a1c"/>
<polygon points="462.95,183.19 465.45,178.19 460.45,178.19" fill="#168a1c"/>
<polygon points="471.56,176.78 474.06,171.78 469.06,171.78" fill="#168a1c"/>
<polygon points="480.17,173.58 482.67,168.58 477.67,168.58" fill="#168a1c"/>
<polygon points="488.78,168.70 491.28,163.70 486.28,163.70" fill="#168a1c"/>
<polygon points="497.39,160.61 499.89,155.61 494.89,155.61" fill="#168a1c"/>
<polygon points="506.00,157.25 508.50,152.25 503.50,152.25" fill="#168a1c"/>
<polygon points="514.61,152.37 517.11,147.37 512.11,147.37" fill="#168a1c"/>
<polygon points="523.22,154.20 525.72,149.20 520.72,149.20" fill="#168a1c"/>
<polygon points="531.83,150.54 534.33,145.54 529.33,145.54" fill="#168a1c"/>
<polygon points="540.44,142.30 542.94,137.30 537.94,137.30" fill="#168a1c"/>
<polygon points="549.05,140.47 551.55,135.47 546.55,135.47" fill="#168a1c"/>
<polygon points="557.66,140.16 560.16,135.16 555.16,135.16" fill="#168a1c"/>
<polygon points="566.27,134.06 568.77,129.06 563.77,129.06" fill="#168a1c"/>
<polygon points="574.88,134.67 577.38,129.67 572.38,129.67" fill="#168a1c"/>
<polygon points="583.49,135.58 585.99,130.58 580.99,130.58" fill="#168a1c"/>
<polygon points="592.10,133.45 594.60,128.45 589.60,128.45" fill="#168a1c"/>
<polygon points="600.71,130.85 603.21,125.85 598.21,125.85" fill="#168a1c"/>
<polygon points="609.32,127.34 611.82,122.34 606.82,122.34" fill="#168a1c"/>
<polygon points="617.93,127.65 620.43,122.65 615.43,122.65" fill="#168a1c"/>
<polygon points="626.54,127.80 629.04,122.80 624.04,122.80" fill="#168a1c"/>
<line x1="428.51" y1="217.49" x2="428.51" y2="220.19" stroke="#1212ac" stroke-width="0.9" stroke-linecap="butt"/>
<line x1="426.21" y1="217.49" x2="430.81" y2="217.49" stroke="#1212ac" stroke-width="0.9" stroke-linecap="butt"/>
<line x1="426.21" y1="220.19" x2="430.81" y2="220.19" stroke="#1212ac" stroke-width="0.9" stroke-linecap="butt"/>
<line x1="437.12" y1="207.08" x2="437.12" y2="210.47" stroke="#1212ac" stroke-width="0.9" stroke-linecap="butt"/>
<line x1="434.82" y1="207.08" x2="439.42" y2="207.08" stroke="#1212ac" stroke-width="0.9" stroke-linecap="butt"/>
<line x1="434.82" y1="210.47" x2="439.42" y2="210.47" stroke="#1212ac" stroke-width="0.9" stroke-linecap="butt"/>
<line x1="445.73" y1="200.63" x2="445.73" y2="204.71" stroke="#1212ac" stroke-width="0.9" stroke-linecap="butt"/>
<line x1="443.43" y1="200.63" x2="448.03" y2="200.63" stroke="#1212ac" stroke-width="0.9" stroke-linecap="butt"/>
<line x1="443.43" y1="204.71" x2="448.03" y2="204.71" stroke="#1212ac" stroke-width="0.9" stroke-linecap="butt"/>
<line x1="454.34" y1="192.96" x2="454.34" y2="197.72" stroke="#1212ac" stroke-width="0.9" stroke-linecap="butt"/>
<line x1="452.04" y1="192.96" x2="456.64" y2="192.96" stroke="#1212ac" stroke-width="0.9" stroke-linecap="butt"/>
<line x1="452.04" y1="197.72" x2="456.64" y2="197.72" stroke="#1212ac" stroke-width="0.9" stroke-linecap="butt"/>
<line x1="462.95" y1="186.21" x2="462.95" y2="191.66" stroke="#1212ac" stroke-width="0.9" stroke-linecap="butt"/>
<line x1="460.65" y1="186.21" x2="465.25" y2="186.21" stroke="#1212ac" stroke-width="0.9" stroke-linecap="butt"/>
<line x1="460.65" y1="191.66" x2="465.25" y2="191.66" stroke="#1212ac" stroke-width="0.9" stroke-linecap="butt"/>
<line x1="471.56" y1="176.10" x2="471.56" y2="182.24" stroke="#1212ac" stroke-width="0.9" stroke-linecap="butt"/>
<line x1="469.26" y1="176.10" x2="473.86" y2="176.10" stroke="#1212ac" stroke-width="0.9" stroke-linecap="butt"/>
<line x1="469.26" y1="182.24" x2="473.86" y2="182.24" stroke="#1212ac" stroke-width="0.9" stroke-linecap="butt"/>
<line x1="480.17" y1="170.87" x2="480.17" y2="177.70" stroke="#1212ac" stroke-width="0.9" stroke-linecap="butt"/>
<line x1="477.87" y1="170.87" x2="482.47" y2="170.87" stroke="#1212ac" stroke-width="0.9" stroke-linecap="butt"/>
<line x1="477.87" y1="177.70" x2="482.47" y2="177.70" stroke="#1212ac" stroke-width="0.9" stroke-linecap="butt"/>
<line x1="488.78" y1="166.56" x2="488.78" y2="174.07" stroke="#1212ac" stroke-width="0.9" stroke-linecap="butt"/>
<line x1="486.48" y1="166.56" x2="491.08" y2="166.56" stroke="#1212ac" stroke-width="0.9" stroke-linecap="butt"/>
<line x1="486.48" y1="174.07" x2="491.08" y2="174.07" stroke="#1212ac" stroke-width="0.9" stroke-linecap="butt"/>
<line x1="497.39" y1="163.63" x2="497.39" y2="171.82" stroke="#1212ac" stroke-width="0.9" stroke-linecap="butt"/>
<line x1="495.09" y1="163.63" x2="499.69" y2="163.63" stroke="#1212ac" stroke-width="0.9" stroke-linecap="butt"/>
<line x1="495.09" y1="171.82" x2="499.69" y2="171.82" stroke="#1212ac" stroke-width="0.9" stroke-linecap="butt"/>
<line x1="506.00" y1="157.79" x2="506.00" y2="166.67" stroke="#1212ac" stroke-width="0.9" stroke-linecap="butt"/>
<line x1="503.70" y1="157.79" x2="508.30" y2="157.79" stroke="#1212ac" stroke-width="0.9" stroke-linecap="butt"/>
<line x1="503.70" y1="166.67" x2="508.30" y2="166.67" stroke="#1212ac" stroke-width="0.9" stroke-linecap="butt"/>
<line x1="514.61" y1="153.53" x2="514.61" y2="162.69" stroke="#1212ac" stroke-width="0.9" stroke-linecap="butt"/>
<line x1="512.31" y1="153.53" x2="516.91" y2="153.53" stroke="#1212ac" stroke-width="0.9" stroke-linecap="butt"/>
<line x1="512.31" y1="162.69" x2="516.91" y2="162.69" stroke="#1212ac" stroke-width="0.9" stroke-linecap="butt"/>
<line x1="523.22" y1="151.39" x2="523.22" y2="160.55" stroke="#1212ac" stroke-width="0.9" stroke-linecap="butt"/>
<line x1="520.92" y1="151.39" x2="525.52" y2="151.39" stroke="#1212ac" stroke-width="0.9" stroke-linecap="butt"/>
<line x1="520.92" y1="160.55" x2="525.52" y2="160.55" stroke="#1212ac" stroke-width="0.9" stroke-linecap="butt"/>
<line x1="531.83" y1="149.26" x2="531.83" y2="158.41" stroke="#1212ac" stroke-width="0.9" stroke-linecap="butt"/>
<line x1="529.53" y1="149.26" x2="534.13" y2="149.26" stroke="#1212ac" stroke-width="0.9" stroke-linecap="butt"/>
<line x1="529.53" y1="158.41" x2="534.13" y2="158.41" stroke="#1212ac" stroke-width="0.9" stroke-linecap="butt"/>
<line x1="540.44" y1="146.66" x2="540.44" y2="155.82" stroke="#1212ac" stroke-width="0.9" stroke-linecap="butt"/>
<line x1="538.14" y1="146.66" x2="542.74" y2="146.66" stroke="#1212ac" stroke-width="0.9" stroke-linecap="butt"/>
<line x1="538.14" y1="155.82" x2="542.74" y2="155.82" stroke="#1212ac" stroke-width="0.9" stroke-linecap="butt"/>
<line x1="549.05" y1="144.22" x2="549.05" y2="153.38" stroke="#1212ac" stroke-width="0.9" stroke-linecap="butt"/>
<line x1="546.75" y1="144.22" x2="551.35" y2="144.22" stroke="#1212ac" stroke-width="0.9" stroke-linecap="butt"/>
<line x1="546.75" y1="153.38" x2="551.35" y2="153.38" stroke="#1212ac" stroke-width="0.9" stroke-linecap="butt"/>
<line x1="557.66" y1="142.39" x2="557.66" y2="151.55" stroke="#1212ac" stroke-width="0.9" stroke-linecap="butt"/>
<line x1="555.36" y1="142.39" x2="559.96" y2="142.39" stroke="#1212ac" stroke-width="0.9" stroke-linecap="butt"/>
<line x1="555.36" y1="151.55" x2="559.96" y2="151.55" stroke="#1212ac" stroke-width="0.9" stroke-linecap="butt"/>
<line x1="566.27" y1="139.49" x2="566.27" y2="148.65" stroke="#1212ac" stroke-width="0.9" stroke-linecap="butt"/>
<line x1="563.97" y1="139.49" x2="568.57" y2="139.49" stroke="#1212ac" stroke-width="0.9" stroke-linecap="butt"/>
<line x1="563.97" y1="148.65" x2="568.57" y2="148.65" stroke="#1212ac" stroke-width="0.9" stroke-linecap="butt"/>
<line x1="574.88" y1="138.42" x2="574.88" y2="147.58" stroke="#1212ac" stroke-width="0.9" stroke-linecap="butt"/>
<line x1="572.58" y1="138.42" x2="577.18" y2="138.42" stroke="#1212ac" stroke-width="0.9" stroke-linecap="butt"/>
<line x1="572.58" y1="147.58" x2="577.18" y2="147.58" stroke="#1212ac" stroke-width="0.9" stroke-linecap="butt"/>
<line x1="583.49" y1="137.66" x2="583.49" y2="146.82" stroke="#1212ac" stroke-width="0.9" stroke-linecap="butt"/>
<line x1="581.19" y1="137.66" x2="585.79" y2="137.66" stroke="#1212ac" stroke-width="0.9" stroke-linecap="butt"/>
<line x1="581.19" y1="146.82" x2="585.79" y2="146.82" stroke="#1212ac" stroke-width="0.9" stroke-linecap="butt"/>
<line x1="592.10" y1="135.98" x2="592.10" y2="145.14" stroke="#1212ac" stroke-width="0.9" stroke-linecap="butt"/>
<line x1="589.80" y1="135.98" x2="594.40" y2="135.98" stroke="#1212ac" stroke-width="0.9" stroke-linecap="butt"/>
<line x1="589.80" y1="145.14" x2="594.40" y2="145.14" stroke="#1212ac" stroke-width="0.9" stroke-linecap="butt"/>
<line x1="600.71" y1="134.91" x2="600.71" y2="144.07" stroke="#1212ac" stroke-width="0.9" stroke-linecap="butt"/>
<line x1="598.41" y1="134.91" x2="603.01" y2="134.91" stroke="#1212ac" stroke-width="0.9" stroke-linecap="butt"/>
<line x1="598.41" y1="144.07" x2="603.01" y2="144.07" stroke="#1212ac" stroke-width="0.9" stroke-linecap="butt"/>
<line x1="609.32" y1="133.39" x2="609.32" y2="142.54" stroke="#1212ac" stroke-width="0.9" stroke-linecap="butt"/>
<line x1="607.02" y1="133.39" x2="611.62" y2="133.39" stroke="#1212ac" stroke-width="0.9" stroke-linecap="butt"/>
<line x1="607.02" y1="142.54" x2="611.62" y2="142.54" stroke="#1212ac" stroke-width="0.9" stroke-linecap="butt"/>
<line x1="617.93" y1="132.32" x2="617.93" y2="141.48" stroke="#1212ac" stroke-width="0.9" stroke-linecap="butt"/>
<line x1="615.63" y1="132.32" x2="620.23" y2="132.32" stroke="#1212ac" stroke-width="0.9" stroke-linecap="butt"/>
<line x1="615.63" y1="141.48" x2="620.23" y2="141.48" stroke="#1212ac" stroke-width="0.9" stroke-linecap="butt"/>
<line x1="626.54" y1="129.88" x2="626.54" y2="139.03" stroke="#1212ac" stroke-width="0.9" stroke-linecap="butt"/>
<line x1="624.24" y1="129.88" x2="628.84" y2="129.88" stroke="#1212ac" stroke-width="0.9" stroke-linecap="butt"/>
<line x1="624.24" y1="139.03" x2="628.84" y2="139.03" stroke="#1212ac" stroke-width="0.9" stroke-linecap="butt"/>
<polyline points="419.90,227.69 428.51,218.84 437.12,208.77 445.73,202.67 454.34,195.34 462.95,188.93 471.56,179.17 480.17,174.28 488.78,170.32 497.39,167.72 506.00,162.23 514.61,158.11 523.22,155.97 531.83,153.84 540.44,151.24 549.05,148.80 557.66,146.97 566.27,144.07 574.88,143.00 583.49,142.24 592.10,140.56 600.71,139.49 609.32,137.97 617.93,136.90 626.54,134.46" fill="none" stroke="#1212ac" stroke-width="1.45" stroke-linejoin="round" stroke-linecap="round"/>
<rect x="417.60" y="225.39" width="4.60" height="4.60" fill="#1212ac"/>
<rect x="426.21" y="216.54" width="4.60" height="4.60" fill="#1212ac"/>
<rect x="434.82" y="206.47" width="4.60" height="4.60" fill="#1212ac"/>
<rect x="443.43" y="200.37" width="4.60" height="4.60" fill="#1212ac"/>
<rect x="452.04" y="193.04" width="4.60" height="4.60" fill="#1212ac"/>
<rect x="460.65" y="186.63" width="4.60" height="4.60" fill="#1212ac"/>
<rect x="469.26" y="176.87" width="4.60" height="4.60" fill="#1212ac"/>
<rect x="477.87" y="171.98" width="4.60" height="4.60" fill="#1212ac"/>
<rect x="486.48" y="168.02" width="4.60" height="4.60" fill="#1212ac"/>
<rect x="495.09" y="165.42" width="4.60" height="4.60" fill="#1212ac"/>
<rect x="503.70" y="159.93" width="4.60" height="4.60" fill="#1212ac"/>
<rect x="512.31" y="155.81" width="4.60" height="4.60" fill="#1212ac"/>
<rect x="520.92" y="153.67" width="4.60" height="4.60" fill="#1212ac"/>
<rect x="529.53" y="151.54" width="4.60" height="4.60" fill="#1212ac"/>
<rect x="538.14" y="148.94" width="4.60" height="4.60" fill="#1212ac"/>
<rect x="546.75" y="146.50" width="4.60" height="4.60" fill="#1212ac"/>
<rect x="555.36" y="144.67" width="4.60" height="4.60" fill="#1212ac"/>
<rect x="563.97" y="141.77" width="4.60" height="4.60" fill="#1212ac"/>
<rect x="572.58" y="140.70" width="4.60" height="4.60" fill="#1212ac"/>
<rect x="581.19" y="139.94" width="4.60" height="4.60" fill="#1212ac"/>
<rect x="589.80" y="138.26" width="4.60" height="4.60" fill="#1212ac"/>
<rect x="598.41" y="137.19" width="4.60" height="4.60" fill="#1212ac"/>
<rect x="607.02" y="135.67" width="4.60" height="4.60" fill="#1212ac"/>
<rect x="615.63" y="134.60" width="4.60" height="4.60" fill="#1212ac"/>
<rect x="624.24" y="132.16" width="4.60" height="4.60" fill="#1212ac"/>
<polyline points="419.90,227.69 428.51,225.71 437.12,225.41 445.73,225.10 454.34,224.80 462.95,224.64 471.56,223.88 480.17,223.73 488.78,223.73 497.39,223.42 506.00,222.96 514.61,222.81 523.22,222.51 531.83,222.20 540.44,222.05 549.05,221.90 557.66,221.90 566.27,221.29 574.88,220.98 583.49,220.52 592.10,220.22 600.71,219.76 609.32,219.30 617.93,219.30 626.54,218.23" fill="none" stroke="#a30f14" stroke-width="1.45" stroke-linejoin="round" stroke-linecap="round"/>
<polygon points="419.90,225.49 422.10,227.69 419.90,229.89 417.70,227.69" fill="#a30f14"/>
<polygon points="428.51,223.51 430.71,225.71 428.51,227.91 426.31,225.71" fill="#a30f14"/>
<polygon points="437.12,223.21 439.32,225.41 437.12,227.61 434.92,225.41" fill="#a30f14"/>
<polygon points="445.73,222.90 447.93,225.10 445.73,227.30 443.53,225.10" fill="#a30f14"/>
<polygon points="454.34,222.60 456.54,224.80 454.34,227.00 452.14,224.80" fill="#a30f14"/>
<polygon points="462.95,222.44 465.15,224.64 462.95,226.84 460.75,224.64" fill="#a30f14"/>
<polygon points="471.56,221.68 473.76,223.88 471.56,226.08 469.36,223.88" fill="#a30f14"/>
<polygon points="480.17,221.53 482.37,223.73 480.17,225.93 477.97,223.73" fill="#a30f14"/>
<polygon points="488.78,221.53 490.98,223.73 488.78,225.93 486.58,223.73" fill="#a30f14"/>
<polygon points="497.39,221.22 499.59,223.42 497.39,225.62 495.19,223.42" fill="#a30f14"/>
<polygon points="506.00,220.76 508.20,222.96 506.00,225.16 503.80,222.96" fill="#a30f14"/>
<polygon points="514.61,220.61 516.81,222.81 514.61,225.01 512.41,222.81" fill="#a30f14"/>
<polygon points="523.22,220.31 525.42,222.51 523.22,224.71 521.02,222.51" fill="#a30f14"/>
<polygon points="531.83,220.00 534.03,222.20 531.83,224.40 529.63,222.20" fill="#a30f14"/>
<polygon points="540.44,219.85 542.64,222.05 540.44,224.25 538.24,222.05" fill="#a30f14"/>
<polygon points="549.05,219.70 551.25,221.90 549.05,224.10 546.85,221.90" fill="#a30f14"/>
<polygon points="557.66,219.70 559.86,221.90 557.66,224.10 555.46,221.90" fill="#a30f14"/>
<polygon points="566.27,219.09 568.47,221.29 566.27,223.49 564.07,221.29" fill="#a30f14"/>
<polygon points="574.88,218.78 577.08,220.98 574.88,223.18 572.68,220.98" fill="#a30f14"/>
<polygon points="583.49,218.32 585.69,220.52 583.49,222.72 581.29,220.52" fill="#a30f14"/>
<polygon points="592.10,218.02 594.30,220.22 592.10,222.42 589.90,220.22" fill="#a30f14"/>
<polygon points="600.71,217.56 602.91,219.76 600.71,221.96 598.51,219.76" fill="#a30f14"/>
<polygon points="609.32,217.10 611.52,219.30 609.32,221.50 607.12,219.30" fill="#a30f14"/>
<polygon points="617.93,217.10 620.13,219.30 617.93,221.50 615.73,219.30" fill="#a30f14"/>
<polygon points="626.54,216.03 628.74,218.23 626.54,220.43 624.34,218.23" fill="#a30f14"/>
<line x1="644.90" y1="86.20" x2="652.30" y2="86.20" stroke="#0c0c0c" stroke-width="1.5" stroke-linecap="butt"/>
<circle cx="648.60" cy="86.20" r="2.20" fill="#0c0c0c"/>
<text x="656.60" y="90.60" font-size="12.4" text-anchor="start" fill="#151515">DMSO</text>
<line x1="644.90" y1="108.80" x2="652.30" y2="108.80" stroke="#2b8ba6" stroke-width="1.5" stroke-linecap="butt"/>
<polygon points="648.60,111.00 650.80,106.60 646.40,106.60" fill="#2b8ba6"/>
<text x="656.60" y="113.20" font-size="12.4" text-anchor="start" fill="#151515">rIL2</text>
<line x1="644.90" y1="131.40" x2="652.30" y2="131.40" stroke="#168a1c" stroke-width="1.5" stroke-linecap="butt"/>
<polygon points="648.60,133.60 650.80,129.20 646.40,129.20" fill="#168a1c"/>
<text x="656.60" y="135.80" font-size="12.4" text-anchor="start" fill="#151515">Tafamidis</text>
<line x1="644.90" y1="154.00" x2="652.30" y2="154.00" stroke="#e8141c" stroke-width="1.5" stroke-linecap="butt"/>
<circle cx="648.60" cy="154.00" r="2.20" fill="#e8141c"/>
<text x="656.60" y="158.40" font-size="12.4" text-anchor="start" fill="#151515">TLHE</text>
<line x1="644.90" y1="176.60" x2="652.30" y2="176.60" stroke="#1212ac" stroke-width="1.5" stroke-linecap="butt"/>
<rect x="646.60" y="174.60" width="4.00" height="4.00" fill="#1212ac"/>
<text x="656.60" y="181.00" font-size="12.4" text-anchor="start" fill="#151515">TLHE-rIL2</text>
<line x1="644.90" y1="199.20" x2="652.30" y2="199.20" stroke="#a30f14" stroke-width="1.5" stroke-linecap="butt"/>
<polygon points="648.60,197.00 650.80,199.20 648.60,201.40 646.40,199.20" fill="#a30f14"/>
<text x="656.60" y="203.60" font-size="12.4" text-anchor="start" fill="#151515">AG10</text>
</g>
<g id="panelC">
<text x="748.50" y="38.90" font-size="29.5" text-anchor="start" fill="#000">C</text>
<text x="918.20" y="54.90" font-size="12.4" text-anchor="middle" fill="#151515">TTR in serum</text>
<line x1="807.50" y1="60.14" x2="807.50" y2="229.00" stroke="#0a0a0a" stroke-width="1.8" stroke-linecap="butt"/>
<line x1="804.20" y1="228.00" x2="807.50" y2="228.00" stroke="#0a0a0a" stroke-width="1.3" stroke-linecap="butt"/>
<text x="804.00" y="232.30" font-size="12.25" text-anchor="end" fill="#151515">0</text>
<line x1="805.30" y1="212.74" x2="807.50" y2="212.74" stroke="#0a0a0a" stroke-width="1.0" stroke-linecap="butt"/>
<line x1="804.20" y1="197.48" x2="807.50" y2="197.48" stroke="#0a0a0a" stroke-width="1.3" stroke-linecap="butt"/>
<text x="804.00" y="201.78" font-size="12.25" text-anchor="end" fill="#151515">20</text>
<line x1="805.30" y1="182.22" x2="807.50" y2="182.22" stroke="#0a0a0a" stroke-width="1.0" stroke-linecap="butt"/>
<line x1="804.20" y1="166.96" x2="807.50" y2="166.96" stroke="#0a0a0a" stroke-width="1.3" stroke-linecap="butt"/>
<text x="804.00" y="171.26" font-size="12.25" text-anchor="end" fill="#151515">40</text>
<line x1="805.30" y1="151.70" x2="807.50" y2="151.70" stroke="#0a0a0a" stroke-width="1.0" stroke-linecap="butt"/>
<line x1="804.20" y1="136.44" x2="807.50" y2="136.44" stroke="#0a0a0a" stroke-width="1.3" stroke-linecap="butt"/>
<text x="804.00" y="140.74" font-size="12.25" text-anchor="end" fill="#151515">60</text>
<line x1="805.30" y1="121.18" x2="807.50" y2="121.18" stroke="#0a0a0a" stroke-width="1.0" stroke-linecap="butt"/>
<line x1="804.20" y1="105.92" x2="807.50" y2="105.92" stroke="#0a0a0a" stroke-width="1.3" stroke-linecap="butt"/>
<text x="804.00" y="110.22" font-size="12.25" text-anchor="end" fill="#151515">80</text>
<line x1="805.30" y1="90.66" x2="807.50" y2="90.66" stroke="#0a0a0a" stroke-width="1.0" stroke-linecap="butt"/>
<line x1="804.20" y1="75.40" x2="807.50" y2="75.40" stroke="#0a0a0a" stroke-width="1.3" stroke-linecap="butt"/>
<text x="804.00" y="79.70" font-size="12.25" text-anchor="end" fill="#151515">100</text>
<line x1="805.30" y1="60.14" x2="807.50" y2="60.14" stroke="#0a0a0a" stroke-width="1.0" stroke-linecap="butt"/>
<line x1="806.55" y1="228.00" x2="1032.80" y2="228.00" stroke="#0a0a0a" stroke-width="1.9" stroke-linecap="butt"/>
<text x="768.80" y="140.70" font-size="12.15" text-anchor="middle" fill="#151515" transform="rotate(-90 768.80 140.70)">% TTR occupancy</text>
<line x1="835.80" y1="210.91" x2="835.80" y2="216.40" stroke="#111111" stroke-width="1.1" stroke-linecap="butt"/>
<line x1="830.20" y1="210.91" x2="841.40" y2="210.91" stroke="#111111" stroke-width="1.1" stroke-linecap="butt"/>
<rect x="825.10" y="216.40" width="21.40" height="11.00" fill="#333333" stroke="#111111" stroke-width="1"/>
<line x1="835.80" y1="228.00" x2="835.80" y2="231.20" stroke="#0a0a0a" stroke-width="1.2" stroke-linecap="butt"/>
<text x="839.40" y="239.60" font-size="12.4" text-anchor="end" fill="#151515" transform="rotate(-45 839.40 239.60)">DMSO</text>
<line x1="869.50" y1="199.92" x2="869.50" y2="204.80" stroke="#14607a" stroke-width="1.1" stroke-linecap="butt"/>
<line x1="863.90" y1="199.92" x2="875.10" y2="199.92" stroke="#14607a" stroke-width="1.1" stroke-linecap="butt"/>
<rect x="858.80" y="204.80" width="21.40" height="22.60" fill="#1f7a99" stroke="#14607a" stroke-width="1"/>
<line x1="869.50" y1="228.00" x2="869.50" y2="231.20" stroke="#0a0a0a" stroke-width="1.2" stroke-linecap="butt"/>
<text x="873.10" y="239.60" font-size="12.4" text-anchor="end" fill="#151515" transform="rotate(-45 873.10 239.60)">rIL2</text>
<line x1="903.20" y1="147.12" x2="903.20" y2="150.48" stroke="#056b0c" stroke-width="1.1" stroke-linecap="butt"/>
<line x1="897.60" y1="147.12" x2="908.80" y2="147.12" stroke="#056b0c" stroke-width="1.1" stroke-linecap="butt"/>
<rect x="892.50" y="150.48" width="21.40" height="76.92" fill="#058008" stroke="#056b0c" stroke-width="1"/>
<line x1="903.20" y1="228.00" x2="903.20" y2="231.20" stroke="#0a0a0a" stroke-width="1.2" stroke-linecap="butt"/>
<text x="906.80" y="239.60" font-size="12.4" text-anchor="end" fill="#151515" transform="rotate(-45 906.80 239.60)">Tafamidis</text>
<line x1="936.90" y1="147.89" x2="936.90" y2="149.72" stroke="#dc060a" stroke-width="1.1" stroke-linecap="butt"/>
<line x1="931.30" y1="147.89" x2="942.50" y2="147.89" stroke="#dc060a" stroke-width="1.1" stroke-linecap="butt"/>
<rect x="926.20" y="149.72" width="21.40" height="77.68" fill="#fd0408" stroke="#dc060a" stroke-width="1"/>
<line x1="936.90" y1="228.00" x2="936.90" y2="231.20" stroke="#0a0a0a" stroke-width="1.2" stroke-linecap="butt"/>
<text x="940.50" y="239.60" font-size="12.4" text-anchor="end" fill="#151515" transform="rotate(-45 940.50 239.60)">TLHE</text>
<line x1="970.60" y1="145.60" x2="970.60" y2="148.04" stroke="#0a0aa2" stroke-width="1.1" stroke-linecap="butt"/>
<line x1="965.00" y1="145.60" x2="976.20" y2="145.60" stroke="#0a0aa2" stroke-width="1.1" stroke-linecap="butt"/>
<rect x="959.90" y="148.04" width="21.40" height="79.36" fill="#0c0cc6" stroke="#0a0aa2" stroke-width="1"/>
<line x1="970.60" y1="228.00" x2="970.60" y2="231.20" stroke="#0a0a0a" stroke-width="1.2" stroke-linecap="butt"/>
<text x="974.20" y="239.60" font-size="12.4" text-anchor="end" fill="#151515" transform="rotate(-45 974.20 239.60)">TLHE-rIL2</text>
<line x1="1004.30" y1="80.28" x2="1004.30" y2="80.89" stroke="#8a0608" stroke-width="1.1" stroke-linecap="butt"/>
<line x1="998.70" y1="80.28" x2="1009.90" y2="80.28" stroke="#8a0608" stroke-width="1.1" stroke-linecap="butt"/>
<rect x="993.60" y="80.89" width="21.40" height="146.51" fill="#9c0a0c" stroke="#8a0608" stroke-width="1"/>
<line x1="1004.30" y1="228.00" x2="1004.30" y2="231.20" stroke="#0a0a0a" stroke-width="1.2" stroke-linecap="butt"/>
<text x="1007.90" y="239.60" font-size="12.4" text-anchor="end" fill="#151515" transform="rotate(-45 1007.90 239.60)">AG10</text>
</g>
</svg>
</body>
</html>
